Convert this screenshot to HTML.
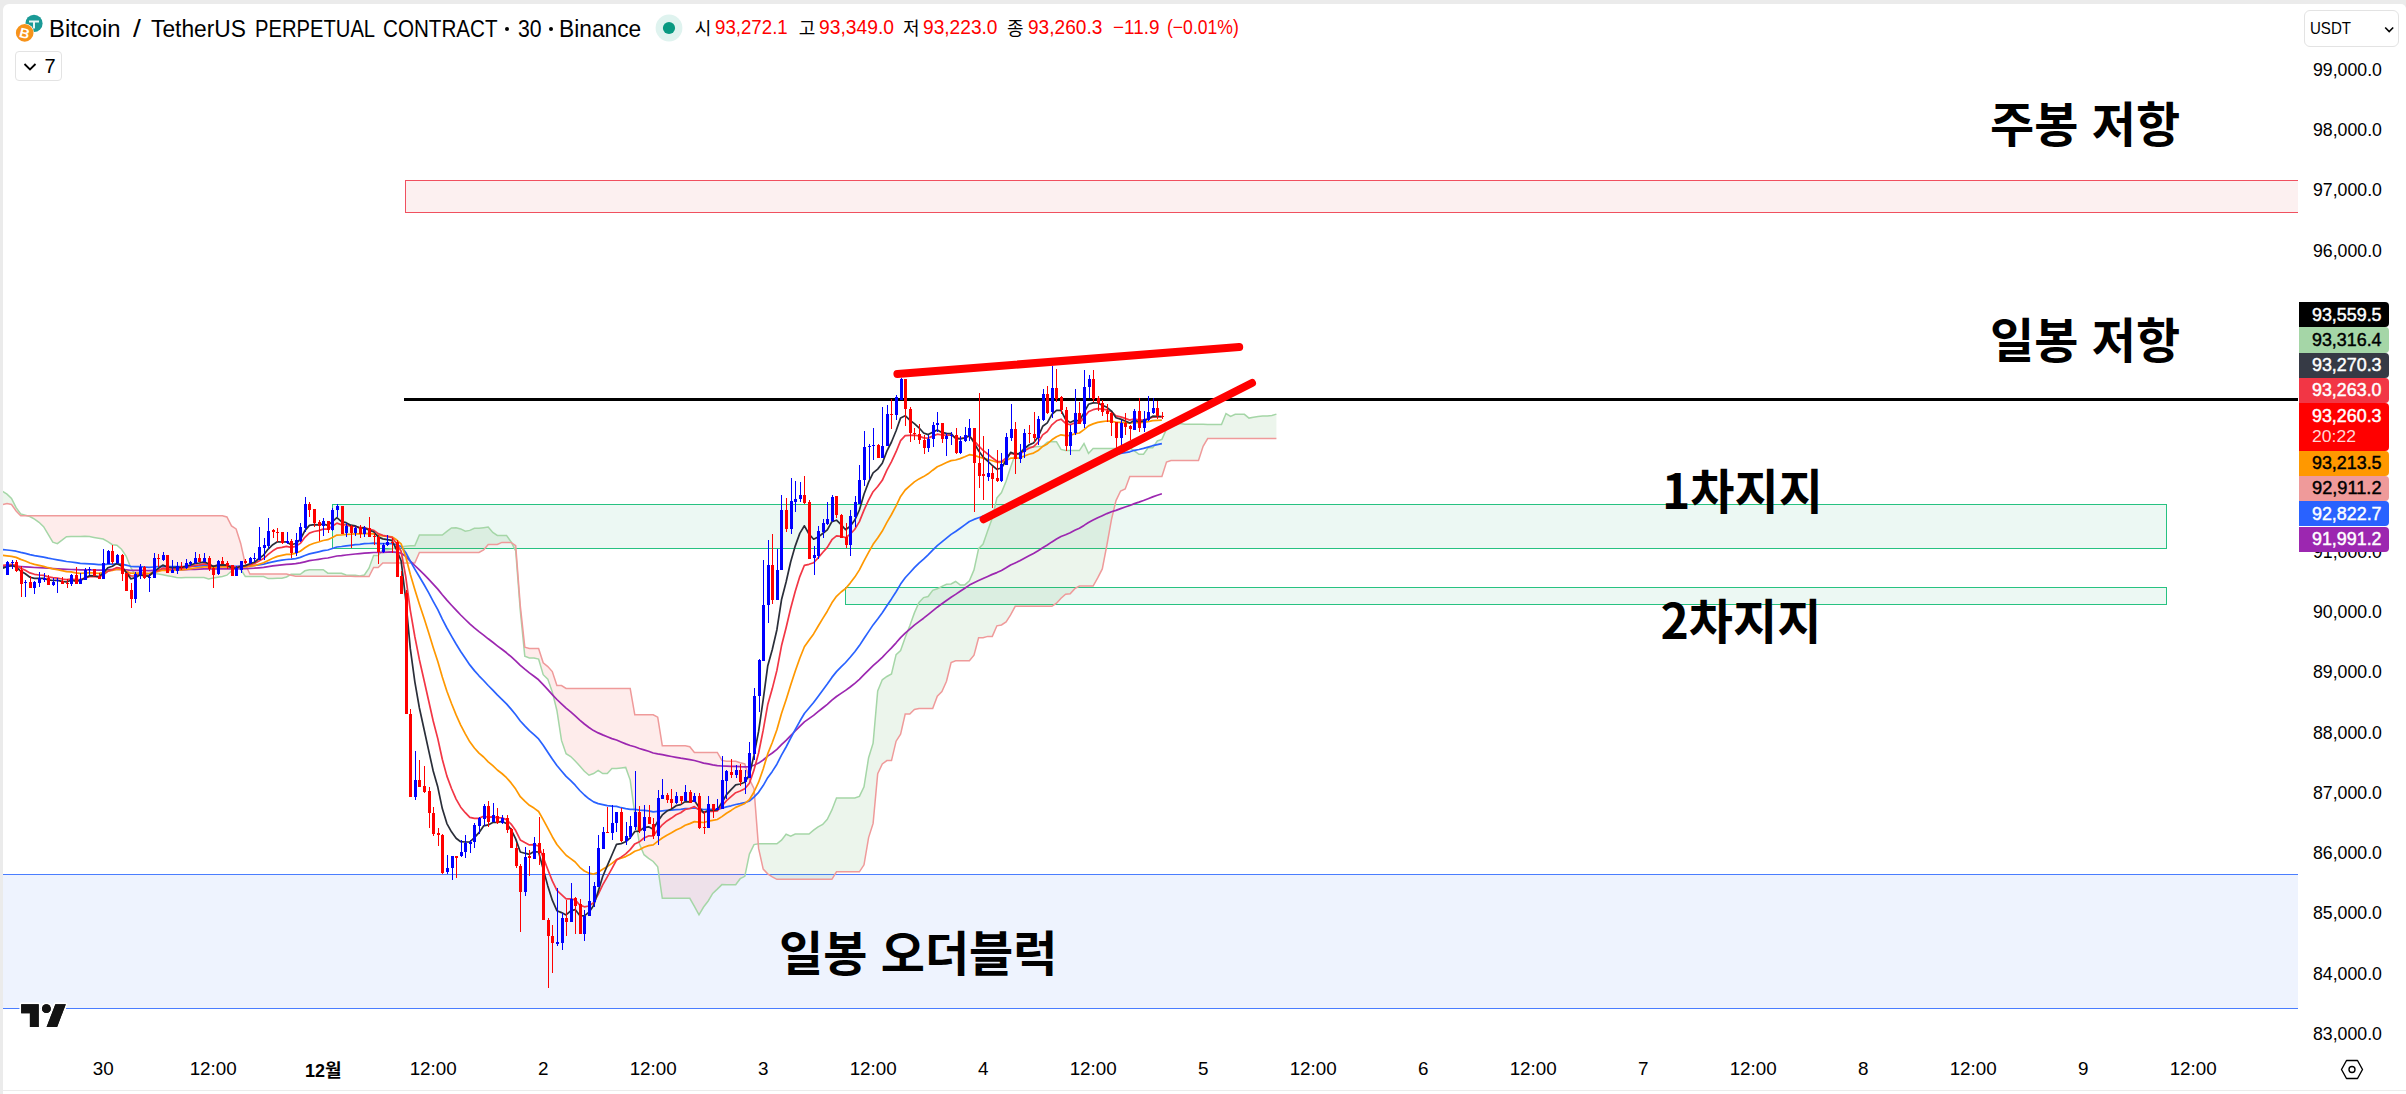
<!DOCTYPE html>
<html lang="ko"><head><meta charset="utf-8"><title>BTCUSDT.P</title>
<style>
html,body{margin:0;padding:0;}
body{width:2406px;height:1094px;position:relative;overflow:hidden;background:#ebebeb;font-family:"Liberation Sans","Noto Sans CJK KR",sans-serif;color:#131722;}
#panel{position:absolute;left:3px;top:4px;width:2403px;height:1086px;background:#fff;border-radius:6px 5px 0 0;}
#below{position:absolute;left:3px;top:1091px;width:2403px;height:3px;background:#fff;}
.t{position:absolute;white-space:nowrap;line-height:1;}
.w{position:absolute;white-space:nowrap;line-height:1;transform-origin:0 0;font-family:"Liberation Sans","Noto Sans CJK KR",sans-serif;}
.k{position:absolute;white-space:nowrap;line-height:1;font-size:18px;color:#000;font-family:"Noto Sans CJK KR",sans-serif;}
.tc{transform:translateX(-50%);color:#000;}
.tb{transform:translateX(-50%);color:#000;font-weight:bold;font-size:18px;}
.title{left:50px;top:17px;font-size:24px;color:#000;}
.ohlc{left:696px;top:18px;font-size:20px;color:#000;}
.ohlc .v{color:#ff0000;}
.ohlc .sp{display:inline-block;width:9px;}
.legbtn{position:absolute;left:15px;top:51px;width:47px;height:30px;border:1px solid #e3e3e3;border-radius:4px;box-sizing:border-box;background:#fff;}
.legbtn .n{position:absolute;left:28.5px;top:3.2px;font-size:20px;color:#000;}
.usdt{position:absolute;left:2304px;top:10px;width:95px;height:37px;border:1px solid #e3e3e3;border-radius:6px;box-sizing:border-box;background:#fff;}
.usdt .n{position:absolute;left:5px;top:10px;font-size:18px;color:#000;}
.ax{position:absolute;left:2312px;font-size:17px;color:#000;line-height:1;}
.tx{position:absolute;top:1061px;font-size:17px;color:#000;transform:translateX(-50%);line-height:1;}
.tx.b{font-weight:bold;}
.lbl{position:absolute;left:2299px;width:90px;height:25.3px;border-radius:0 4px 4px 0;box-sizing:border-box;padding-left:13px;font-size:17px;line-height:25px;font-weight:bold;}
.big{position:absolute;font-weight:bold;color:#000;font-size:48px;line-height:1;white-space:nowrap;font-family:"Noto Sans CJK KR","Liberation Sans",sans-serif;}
</style></head><body>
<div id="panel"></div><div id="below"></div>
<svg width="2406" height="1094" viewBox="0 0 2406 1094" style="position:absolute;left:0;top:0">
<defs><clipPath id="pane"><rect x="3" y="4" width="2295" height="1046"/></clipPath></defs>
<g clip-path="url(#pane)">
<rect x="0" y="874.5" width="2298" height="133.5" fill="#eef3fe"/>
<line x1="0" y1="874.5" x2="2298" y2="874.5" stroke="#4a7dff" stroke-width="1"/>
<line x1="0" y1="1008.5" x2="2298" y2="1008.5" stroke="#4a7dff" stroke-width="1"/>
<rect x="405.5" y="180.5" width="1900" height="32" fill="#fcf0f0" stroke="#f0505f" stroke-width="1"/>
<rect x="332.5" y="504.5" width="1834" height="44" fill="#ecf8f3" stroke="#27c281" stroke-width="1"/>
<rect x="845.5" y="587.5" width="1321" height="17" fill="#ecf8f3" stroke="#27c281" stroke-width="1"/>
<path d="M2.37,491.30 L6.96,494.10 L6.96,503.57 L2.37,504.60ZM6.96,494.10 L11.54,498.49 L11.54,504.45 L6.96,503.57ZM11.54,498.49 L16.12,507.73 L16.12,510.93 L11.54,504.45ZM16.12,507.73 L20.71,513.89 L20.71,515.70 L16.12,510.93ZM20.71,513.89 L25.29,515.21 L25.29,515.70 L20.71,515.70ZM25.29,515.21 L27.01,515.70 L25.29,515.70ZM289.97,574.95 L291.10,574.27 L291.10,575.26ZM291.10,574.27 L295.69,574.27 L295.69,576.20 L291.10,575.26ZM295.69,574.27 L300.27,574.27 L300.27,576.20 L295.69,576.20ZM300.27,574.27 L304.85,570.77 L304.85,576.20 L300.27,576.20ZM304.85,570.77 L309.44,569.73 L309.44,576.20 L304.85,576.20ZM309.44,569.73 L314.02,569.73 L314.02,576.20 L309.44,576.20ZM314.02,569.73 L318.60,569.73 L318.60,576.20 L314.02,576.20ZM318.60,569.73 L323.18,569.73 L323.18,576.20 L318.60,576.20ZM323.18,569.73 L327.77,573.25 L327.77,576.20 L323.18,576.20ZM327.77,573.25 L332.35,573.25 L332.35,576.20 L327.77,576.20ZM332.35,573.25 L336.93,573.25 L336.93,576.20 L332.35,576.20ZM336.93,573.25 L341.52,573.25 L341.52,576.20 L336.93,576.20ZM341.52,573.25 L346.10,575.00 L346.10,576.20 L341.52,576.20ZM346.10,575.00 L350.68,575.27 L350.68,576.20 L346.10,576.20ZM350.68,575.27 L355.26,575.27 L355.26,576.55 L350.68,576.20ZM355.26,575.27 L359.85,576.05 L359.85,576.55 L355.26,576.55ZM359.85,576.05 L364.43,575.00 L364.43,576.55 L359.85,576.55ZM364.43,575.00 L369.01,568.17 L369.01,576.55 L364.43,576.55ZM369.01,568.17 L373.60,555.38 L373.60,567.45 L369.01,576.55ZM373.60,555.38 L378.18,555.38 L378.18,567.45 L373.60,567.45ZM378.18,555.38 L382.76,549.85 L382.76,562.95 L378.18,567.45ZM382.76,549.85 L387.35,549.85 L387.35,562.95 L382.76,562.95ZM387.35,549.85 L391.93,549.07 L391.93,562.95 L387.35,562.95ZM391.93,549.07 L396.51,546.95 L396.51,562.95 L391.93,562.95ZM396.51,546.95 L401.10,546.85 L401.10,562.95 L396.51,562.95ZM401.10,546.85 L405.68,546.35 L405.68,562.95 L401.10,562.95ZM405.68,546.35 L410.26,545.77 L410.26,562.95 L405.68,562.95ZM410.26,545.77 L414.84,545.77 L414.84,562.95 L410.26,562.95ZM414.84,545.77 L419.43,534.95 L419.43,552.50 L414.84,562.95ZM419.43,534.95 L424.01,534.95 L424.01,552.50 L419.43,552.50ZM424.01,534.95 L428.59,534.95 L428.59,552.50 L424.01,552.50ZM428.59,534.95 L433.18,534.95 L433.18,552.50 L428.59,552.50ZM433.18,534.95 L437.76,534.95 L437.76,552.50 L433.18,552.50ZM437.76,534.95 L442.34,534.95 L442.34,552.50 L437.76,552.50ZM442.34,534.95 L446.93,531.35 L446.93,552.50 L442.34,552.50ZM446.93,531.35 L451.51,528.05 L451.51,552.50 L446.93,552.50ZM451.51,528.05 L456.09,527.67 L456.09,552.50 L451.51,552.50ZM456.09,527.67 L460.67,528.92 L460.67,552.50 L456.09,552.50ZM460.67,528.92 L465.26,531.17 L465.26,552.50 L460.67,552.50ZM465.26,531.17 L469.84,530.40 L469.84,552.50 L465.26,552.50ZM469.84,530.40 L474.42,528.28 L474.42,552.50 L469.84,552.50ZM474.42,528.28 L479.01,528.17 L479.01,552.50 L474.42,552.50ZM479.01,528.17 L483.59,527.67 L483.59,549.95 L479.01,552.50ZM483.59,527.67 L488.17,527.10 L488.17,544.45 L483.59,549.95ZM488.17,527.10 L492.75,532.52 L492.75,544.45 L488.17,544.45ZM492.75,532.52 L497.34,535.35 L497.34,544.45 L492.75,544.45ZM497.34,535.35 L501.92,535.35 L501.92,542.40 L497.34,544.45ZM501.92,535.35 L506.50,535.35 L506.50,542.40 L501.92,542.40ZM506.50,535.35 L511.09,541.85 L511.09,542.40 L506.50,542.40ZM511.09,541.85 L511.54,542.72 L511.09,542.40ZM758.22,843.84 L758.57,843.77 L758.57,848.40ZM758.57,843.77 L763.15,843.77 L763.15,869.10 L758.57,848.40ZM763.15,843.77 L767.74,843.77 L767.74,873.75 L763.15,869.10ZM767.74,843.77 L772.32,843.77 L772.32,876.75 L767.74,873.75ZM772.32,843.77 L776.90,843.77 L776.90,879.30 L772.32,876.75ZM776.90,843.77 L781.48,840.12 L781.48,879.30 L776.90,879.30ZM781.48,840.12 L786.07,834.20 L786.07,879.30 L781.48,879.30ZM786.07,834.20 L790.65,836.20 L790.65,879.30 L786.07,879.30ZM790.65,836.20 L795.23,833.98 L795.23,879.30 L790.65,879.30ZM795.23,833.98 L799.82,833.98 L799.82,879.30 L795.23,879.30ZM799.82,833.98 L804.40,833.98 L804.40,879.30 L799.82,879.30ZM804.40,833.98 L808.98,833.98 L808.98,879.30 L804.40,879.30ZM808.98,833.98 L813.57,830.10 L813.57,879.30 L808.98,879.30ZM813.57,830.10 L818.15,826.75 L818.15,879.30 L813.57,879.30ZM818.15,826.75 L822.73,824.35 L822.73,879.30 L818.15,879.30ZM822.73,824.35 L827.31,819.28 L827.31,879.30 L822.73,879.30ZM827.31,819.28 L831.90,809.85 L831.90,879.30 L827.31,879.30ZM831.90,809.85 L836.48,798.02 L836.48,871.80 L831.90,879.30ZM836.48,798.02 L841.06,798.02 L841.06,871.80 L836.48,871.80ZM841.06,798.02 L845.65,798.02 L845.65,871.80 L841.06,871.80ZM845.65,798.02 L850.23,798.02 L850.23,871.80 L845.65,871.80ZM850.23,798.02 L854.81,798.02 L854.81,871.80 L850.23,871.80ZM854.81,798.02 L859.40,796.38 L859.40,871.80 L854.81,871.80ZM859.40,796.38 L863.98,786.83 L863.98,864.75 L859.40,871.80ZM863.98,786.83 L868.56,757.72 L868.56,837.65 L863.98,864.75ZM868.56,757.72 L873.14,743.15 L873.14,823.35 L868.56,837.65ZM873.14,743.15 L877.73,691.05 L877.73,773.75 L873.14,823.35ZM877.73,691.05 L882.31,679.82 L882.31,763.90 L877.73,773.75ZM882.31,679.82 L886.89,676.52 L886.89,760.60 L882.31,763.90ZM886.89,676.52 L891.48,673.92 L891.48,760.60 L886.89,760.60ZM891.48,673.92 L896.06,654.58 L896.06,741.25 L891.48,760.60ZM896.06,654.58 L900.64,650.55 L900.64,734.20 L896.06,741.25ZM900.64,650.55 L905.23,637.62 L905.23,713.95 L900.64,734.20ZM905.23,637.62 L909.81,625.70 L909.81,713.95 L905.23,713.95ZM909.81,625.70 L914.39,612.90 L914.39,709.50 L909.81,713.95ZM914.39,612.90 L918.97,602.38 L918.97,708.40 L914.39,709.50ZM918.97,602.38 L923.56,597.60 L923.56,708.40 L918.97,708.40ZM923.56,597.60 L928.14,596.52 L928.14,708.40 L923.56,708.40ZM928.14,596.52 L932.72,590.30 L932.72,708.40 L928.14,708.40ZM932.72,590.30 L937.31,588.78 L937.31,696.25 L932.72,708.40ZM937.31,588.78 L941.89,586.28 L941.89,691.45 L937.31,696.25ZM941.89,586.28 L946.47,584.28 L946.47,681.30 L941.89,691.45ZM946.47,584.28 L951.06,584.00 L951.06,662.45 L946.47,681.30ZM951.06,584.00 L955.64,581.50 L955.64,660.70 L951.06,662.45ZM955.64,581.50 L960.22,584.88 L960.22,660.70 L955.64,660.70ZM960.22,584.88 L964.80,584.88 L964.80,660.70 L960.22,660.70ZM964.80,584.88 L969.39,580.85 L969.39,660.70 L964.80,660.70ZM969.39,580.85 L973.97,569.85 L973.97,655.20 L969.39,660.70ZM973.97,569.85 L978.55,548.67 L978.55,637.80 L973.97,655.20ZM978.55,548.67 L983.14,544.15 L983.14,637.80 L978.55,637.80ZM983.14,544.15 L987.72,530.78 L987.72,636.35 L983.14,637.80ZM987.72,530.78 L992.30,517.98 L992.30,636.35 L987.72,636.35ZM992.30,517.98 L996.89,497.95 L996.89,625.75 L992.30,636.35ZM996.89,497.95 L1001.47,492.47 L1001.47,625.05 L996.89,625.75ZM1001.47,492.47 L1006.05,481.27 L1006.05,622.05 L1001.47,625.05ZM1006.05,481.27 L1010.63,467.23 L1010.63,614.85 L1006.05,622.05ZM1010.63,467.23 L1015.22,454.27 L1015.22,606.30 L1010.63,614.85ZM1015.22,454.27 L1019.80,452.45 L1019.80,606.30 L1015.22,606.30ZM1019.80,452.45 L1024.38,447.70 L1024.38,606.30 L1019.80,606.30ZM1024.38,447.70 L1028.97,447.15 L1028.97,606.30 L1024.38,606.30ZM1028.97,447.15 L1033.55,447.15 L1033.55,606.30 L1028.97,606.30ZM1033.55,447.15 L1038.13,446.35 L1038.13,606.30 L1033.55,606.30ZM1038.13,446.35 L1042.71,446.35 L1042.71,606.30 L1038.13,606.30ZM1042.71,446.35 L1047.30,442.33 L1047.30,606.30 L1042.71,606.30ZM1047.30,442.33 L1051.88,441.58 L1051.88,606.30 L1047.30,606.30ZM1051.88,441.58 L1056.46,441.83 L1056.46,603.25 L1051.88,606.30ZM1056.46,441.83 L1061.05,449.35 L1061.05,598.25 L1056.46,603.25ZM1061.05,449.35 L1065.63,450.62 L1065.63,594.25 L1061.05,598.25ZM1065.63,450.62 L1070.21,450.62 L1070.21,593.70 L1065.63,594.25ZM1070.21,450.62 L1074.80,450.62 L1074.80,588.70 L1070.21,593.70ZM1074.80,450.62 L1079.38,450.62 L1079.38,585.95 L1074.80,588.70ZM1079.38,450.62 L1083.96,443.50 L1083.96,585.95 L1079.38,585.95ZM1083.96,443.50 L1088.55,453.35 L1088.55,585.95 L1083.96,585.95ZM1088.55,453.35 L1093.13,448.52 L1093.13,585.95 L1088.55,585.95ZM1093.13,448.52 L1097.71,448.52 L1097.71,577.90 L1093.13,585.95ZM1097.71,448.52 L1102.29,448.52 L1102.29,568.85 L1097.71,577.90ZM1102.29,448.52 L1106.88,448.52 L1106.88,545.00 L1102.29,568.85ZM1106.88,448.52 L1111.46,448.52 L1111.46,519.40 L1106.88,545.00ZM1111.46,448.52 L1116.04,448.52 L1116.04,500.55 L1111.46,519.40ZM1116.04,448.52 L1120.63,448.52 L1120.63,491.00 L1116.04,500.55ZM1120.63,448.52 L1125.21,448.52 L1125.21,488.85 L1120.63,491.00ZM1125.21,448.52 L1129.79,447.77 L1129.79,476.40 L1125.21,488.85ZM1129.79,447.77 L1134.38,450.80 L1134.38,476.40 L1129.79,476.40ZM1134.38,450.80 L1138.96,454.27 L1138.96,476.40 L1134.38,476.40ZM1138.96,454.27 L1143.54,454.27 L1143.54,476.40 L1138.96,476.40ZM1143.54,454.27 L1148.12,447.77 L1148.12,476.40 L1143.54,476.40ZM1148.12,447.77 L1152.71,447.77 L1152.71,476.40 L1148.12,476.40ZM1152.71,447.77 L1157.29,441.00 L1157.29,476.40 L1152.71,476.40ZM1157.29,441.00 L1161.87,439.35 L1161.87,476.40 L1157.29,476.40ZM1161.87,439.35 L1166.46,429.10 L1166.46,462.05 L1161.87,476.40ZM1166.46,429.10 L1171.04,426.32 L1171.04,460.55 L1166.46,462.05ZM1171.04,426.32 L1175.62,425.07 L1175.62,460.55 L1171.04,460.55ZM1175.62,425.07 L1180.21,423.48 L1180.21,460.55 L1175.62,460.55ZM1180.21,423.48 L1184.79,424.27 L1184.79,460.55 L1180.21,460.55ZM1184.79,424.27 L1189.37,424.27 L1189.37,460.55 L1184.79,460.55ZM1189.37,424.27 L1193.95,424.27 L1193.95,460.55 L1189.37,460.55ZM1193.95,424.27 L1198.54,424.27 L1198.54,460.55 L1193.95,460.55ZM1198.54,424.27 L1203.12,424.27 L1203.12,446.30 L1198.54,460.55ZM1203.12,424.27 L1207.70,424.43 L1207.70,438.50 L1203.12,446.30ZM1207.70,424.43 L1212.29,424.65 L1212.29,438.50 L1207.70,438.50ZM1212.29,424.65 L1216.87,424.65 L1216.87,438.50 L1212.29,438.50ZM1216.87,424.65 L1221.45,424.65 L1221.45,438.50 L1216.87,438.50ZM1221.45,424.65 L1226.04,413.50 L1226.04,438.50 L1221.45,438.50ZM1226.04,413.50 L1230.62,416.45 L1230.62,438.50 L1226.04,438.50ZM1230.62,416.45 L1235.20,414.30 L1235.20,438.50 L1230.62,438.50ZM1235.20,414.30 L1239.78,414.30 L1239.78,438.50 L1235.20,438.50ZM1239.78,414.30 L1244.37,414.30 L1244.37,438.50 L1239.78,438.50ZM1244.37,414.30 L1248.95,418.05 L1248.95,438.50 L1244.37,438.50ZM1248.95,418.05 L1253.53,417.32 L1253.53,438.50 L1248.95,438.50ZM1253.53,417.32 L1258.12,416.52 L1258.12,438.50 L1253.53,438.50ZM1258.12,416.52 L1262.70,415.98 L1262.70,438.50 L1258.12,438.50ZM1262.70,415.98 L1267.28,415.98 L1267.28,438.50 L1262.70,438.50ZM1267.28,415.98 L1271.87,415.35 L1271.87,438.50 L1267.28,438.50ZM1271.87,415.35 L1276.45,414.08 L1276.45,438.50 L1271.87,438.50Z" fill="rgba(67,160,71,0.1)"/>
<path d="M27.01,515.70 L29.87,516.52 L29.87,515.70ZM29.87,516.52 L34.45,519.13 L34.45,515.70 L29.87,515.70ZM34.45,519.13 L39.04,522.28 L39.04,515.70 L34.45,515.70ZM39.04,522.28 L43.62,526.74 L43.62,515.70 L39.04,515.70ZM43.62,526.74 L48.20,534.40 L48.20,515.70 L43.62,515.70ZM48.20,534.40 L52.79,542.13 L52.79,515.70 L48.20,515.70ZM52.79,542.13 L57.37,543.62 L57.37,515.70 L52.79,515.70ZM57.37,543.62 L61.95,540.20 L61.95,515.70 L57.37,515.70ZM61.95,540.20 L66.54,536.69 L66.54,515.70 L61.95,515.70ZM66.54,536.69 L71.12,536.59 L71.12,515.70 L66.54,515.70ZM71.12,536.59 L75.70,536.48 L75.70,515.70 L71.12,515.70ZM75.70,536.48 L80.28,536.37 L80.28,515.70 L75.70,515.70ZM80.28,536.37 L84.87,536.26 L84.87,515.70 L80.28,515.70ZM84.87,536.26 L89.45,536.58 L89.45,515.70 L84.87,515.70ZM89.45,536.58 L94.03,537.40 L94.03,515.70 L89.45,515.70ZM94.03,537.40 L98.62,538.22 L98.62,515.70 L94.03,515.70ZM98.62,538.22 L103.20,539.03 L103.20,515.70 L98.62,515.70ZM103.20,539.03 L107.78,541.63 L107.78,515.70 L103.20,515.70ZM107.78,541.63 L112.37,544.69 L112.37,515.70 L107.78,515.70ZM112.37,544.69 L116.95,545.27 L116.95,515.70 L112.37,515.70ZM116.95,545.27 L121.53,549.34 L121.53,515.70 L116.95,515.70ZM121.53,549.34 L126.12,556.04 L126.12,515.70 L121.53,515.70ZM126.12,556.04 L130.70,567.52 L130.70,515.70 L126.12,515.70ZM130.70,567.52 L135.28,574.91 L135.28,515.70 L130.70,515.70ZM135.28,574.91 L139.86,574.59 L139.86,515.70 L135.28,515.70ZM139.86,574.59 L144.45,574.27 L144.45,515.70 L139.86,515.70ZM144.45,574.27 L149.03,573.96 L149.03,515.70 L144.45,515.70ZM149.03,573.96 L153.61,573.64 L153.61,515.70 L149.03,515.70ZM153.61,573.64 L158.20,573.98 L158.20,515.70 L153.61,515.70ZM158.20,573.98 L162.78,574.83 L162.78,515.70 L158.20,515.70ZM162.78,574.83 L167.36,575.68 L167.36,515.70 L162.78,515.70ZM167.36,575.68 L171.94,576.52 L171.94,515.70 L167.36,515.70ZM171.94,576.52 L176.53,577.63 L176.53,515.70 L171.94,515.70ZM176.53,577.63 L181.11,577.72 L181.11,515.70 L176.53,515.70ZM181.11,577.72 L185.69,577.64 L185.69,515.70 L181.11,515.70ZM185.69,577.64 L190.28,577.55 L190.28,515.70 L185.69,515.70ZM190.28,577.55 L194.86,577.46 L194.86,515.70 L190.28,515.70ZM194.86,577.46 L199.44,577.37 L199.44,515.70 L194.86,515.70ZM199.44,577.37 L204.03,577.54 L204.03,515.70 L199.44,515.70ZM204.03,577.54 L208.61,578.90 L208.61,515.70 L204.03,515.70ZM208.61,578.90 L213.19,577.96 L213.19,515.70 L208.61,515.70ZM213.19,577.96 L217.78,577.23 L217.78,515.70 L213.19,515.70ZM217.78,577.23 L222.36,576.55 L222.36,515.70 L217.78,515.70ZM222.36,576.55 L226.94,575.15 L226.94,516.98 L222.36,515.70ZM226.94,575.15 L231.52,571.03 L231.52,525.90 L226.94,516.98ZM231.52,571.03 L236.11,566.95 L236.11,528.95 L231.52,525.90ZM236.11,566.95 L240.69,569.42 L240.69,543.37 L236.11,528.95ZM240.69,569.42 L245.27,576.55 L245.27,564.24 L240.69,543.37ZM245.27,576.55 L249.86,576.55 L249.86,574.00 L245.27,564.24ZM249.86,576.55 L254.44,576.55 L254.44,574.00 L249.86,574.00ZM254.44,576.55 L259.02,576.55 L259.02,574.00 L254.44,574.00ZM259.02,576.55 L263.61,576.55 L263.61,574.00 L259.02,574.00ZM263.61,576.55 L268.19,578.58 L268.19,574.00 L263.61,574.00ZM268.19,578.58 L272.77,578.58 L272.77,574.00 L268.19,574.00ZM272.77,578.58 L277.35,578.30 L277.35,574.00 L272.77,574.00ZM277.35,578.30 L281.94,578.30 L281.94,574.00 L277.35,574.00ZM281.94,578.30 L286.52,577.02 L286.52,574.00 L281.94,574.00ZM286.52,577.02 L289.97,574.95 L286.52,574.00ZM511.54,542.72 L515.67,550.75 L515.67,545.70ZM515.67,550.75 L520.25,610.80 L520.25,605.75 L515.67,545.70ZM520.25,610.80 L524.84,656.20 L524.84,647.15 L520.25,605.75ZM524.84,656.20 L529.42,657.90 L529.42,648.40 L524.84,647.15ZM529.42,657.90 L534.00,657.90 L534.00,648.40 L529.42,648.40ZM534.00,657.90 L538.59,659.15 L538.59,648.40 L534.00,648.40ZM538.59,659.15 L543.17,674.73 L543.17,662.75 L538.59,648.40ZM543.17,674.73 L547.75,679.12 L547.75,666.60 L543.17,662.75ZM547.75,679.12 L552.33,691.88 L552.33,671.65 L547.75,666.60ZM552.33,691.88 L556.92,710.50 L556.92,685.60 L552.33,671.65ZM556.92,710.50 L561.50,740.40 L561.50,685.60 L556.92,685.60ZM561.50,740.40 L566.08,753.70 L566.08,688.55 L561.50,685.60ZM566.08,753.70 L570.67,756.52 L570.67,688.55 L566.08,688.55ZM570.67,756.52 L575.25,760.85 L575.25,688.55 L570.67,688.55ZM575.25,760.85 L579.83,766.12 L579.83,688.55 L575.25,688.55ZM579.83,766.12 L584.42,771.20 L584.42,688.55 L579.83,688.55ZM584.42,771.20 L589.00,775.15 L589.00,688.55 L584.42,688.55ZM589.00,775.15 L593.58,773.50 L593.58,688.55 L589.00,688.55ZM593.58,773.50 L598.16,770.38 L598.16,688.55 L593.58,688.55ZM598.16,770.38 L602.75,773.62 L602.75,688.55 L598.16,688.55ZM602.75,773.62 L607.33,773.45 L607.33,688.55 L602.75,688.55ZM607.33,773.45 L611.91,768.58 L611.91,688.55 L607.33,688.55ZM611.91,768.58 L616.50,768.58 L616.50,688.55 L611.91,688.55ZM616.50,768.58 L621.08,768.05 L621.08,688.55 L616.50,688.55ZM621.08,768.05 L625.66,767.43 L625.66,688.55 L621.08,688.55ZM625.66,767.43 L630.25,780.15 L630.25,688.55 L625.66,688.55ZM630.25,780.15 L634.83,813.95 L634.83,714.75 L630.25,688.55ZM634.83,813.95 L639.41,843.85 L639.41,714.75 L634.83,714.75ZM639.41,843.85 L643.99,854.70 L643.99,714.75 L639.41,714.75ZM643.99,854.70 L648.58,858.27 L648.58,714.75 L643.99,714.75ZM648.58,858.27 L653.16,861.52 L653.16,714.75 L648.58,714.75ZM653.16,861.52 L657.74,866.80 L657.74,717.25 L653.16,714.75ZM657.74,866.80 L662.33,898.33 L662.33,745.70 L657.74,717.25ZM662.33,898.33 L666.91,898.33 L666.91,745.70 L662.33,745.70ZM666.91,898.33 L671.49,898.33 L671.49,745.70 L666.91,745.70ZM671.49,898.33 L676.08,898.33 L676.08,745.70 L671.49,745.70ZM676.08,898.33 L680.66,898.33 L680.66,745.70 L676.08,745.70ZM680.66,898.33 L685.24,898.33 L685.24,745.70 L680.66,745.70ZM685.24,898.33 L689.82,898.33 L689.82,746.70 L685.24,745.70ZM689.82,898.33 L694.41,906.35 L694.41,752.35 L689.82,746.70ZM694.41,906.35 L698.99,914.83 L698.99,752.35 L694.41,752.35ZM698.99,914.83 L703.57,906.97 L703.57,752.35 L698.99,752.35ZM703.57,906.97 L708.16,901.05 L708.16,752.35 L703.57,752.35ZM708.16,901.05 L712.74,893.35 L712.74,752.35 L708.16,752.35ZM712.74,893.35 L717.32,889.12 L717.32,752.35 L712.74,752.35ZM717.32,889.12 L721.91,884.62 L721.91,760.35 L717.32,752.35ZM721.91,884.62 L726.49,884.77 L726.49,761.25 L721.91,760.35ZM726.49,884.77 L731.07,884.77 L731.07,761.25 L726.49,761.25ZM731.07,884.77 L735.65,884.77 L735.65,761.25 L731.07,761.25ZM735.65,884.77 L740.24,878.70 L740.24,762.75 L735.65,761.25ZM740.24,878.70 L744.82,876.30 L744.82,763.85 L740.24,762.75ZM744.82,876.30 L749.40,854.08 L749.40,779.25 L744.82,763.85ZM749.40,854.08 L753.99,844.65 L753.99,788.60 L749.40,779.25ZM753.99,844.65 L758.22,843.84 L753.99,788.60Z" fill="rgba(244,67,54,0.1)"/>
<polyline points="2.4,491.3 7.0,494.1 11.5,498.5 16.1,507.7 20.7,513.9 25.3,515.2 29.9,516.5 34.5,519.1 39.0,522.3 43.6,526.7 48.2,534.4 52.8,542.1 57.4,543.6 62.0,540.2 66.5,536.7 71.1,536.6 75.7,536.5 80.3,536.4 84.9,536.3 89.5,536.6 94.0,537.4 98.6,538.2 103.2,539.0 107.8,541.6 112.4,544.7 116.9,545.3 121.5,549.3 126.1,556.0 130.7,567.5 135.3,574.9 139.9,574.6 144.4,574.3 149.0,574.0 153.6,573.6 158.2,574.0 162.8,574.8 167.4,575.7 171.9,576.5 176.5,577.6 181.1,577.7 185.7,577.6 190.3,577.5 194.9,577.5 199.4,577.4 204.0,577.5 208.6,578.9 213.2,578.0 217.8,577.2 222.4,576.5 226.9,575.2 231.5,571.0 236.1,567.0 240.7,569.4 245.3,576.5 249.9,576.5 254.4,576.5 259.0,576.5 263.6,576.5 268.2,578.6 272.8,578.6 277.4,578.3 281.9,578.3 286.5,577.0 291.1,574.3 295.7,574.3 300.3,574.3 304.9,570.8 309.4,569.7 314.0,569.7 318.6,569.7 323.2,569.7 327.8,573.2 332.4,573.2 336.9,573.2 341.5,573.2 346.1,575.0 350.7,575.3 355.3,575.3 359.8,576.0 364.4,575.0 369.0,568.2 373.6,555.4 378.2,555.4 382.8,549.8 387.3,549.8 391.9,549.1 396.5,546.9 401.1,546.8 405.7,546.3 410.3,545.8 414.8,545.8 419.4,535.0 424.0,535.0 428.6,535.0 433.2,535.0 437.8,535.0 442.3,535.0 446.9,531.3 451.5,528.0 456.1,527.7 460.7,528.9 465.3,531.2 469.8,530.4 474.4,528.3 479.0,528.2 483.6,527.7 488.2,527.1 492.8,532.5 497.3,535.4 501.9,535.4 506.5,535.4 511.1,541.9 515.7,550.8 520.3,610.8 524.8,656.2 529.4,657.9 534.0,657.9 538.6,659.1 543.2,674.7 547.8,679.1 552.3,691.9 556.9,710.5 561.5,740.4 566.1,753.7 570.7,756.5 575.2,760.9 579.8,766.1 584.4,771.2 589.0,775.2 593.6,773.5 598.2,770.4 602.7,773.6 607.3,773.5 611.9,768.6 616.5,768.6 621.1,768.0 625.7,767.4 630.2,780.1 634.8,814.0 639.4,843.8 644.0,854.7 648.6,858.3 653.2,861.5 657.7,866.8 662.3,898.3 666.9,898.3 671.5,898.3 676.1,898.3 680.7,898.3 685.2,898.3 689.8,898.3 694.4,906.3 699.0,914.8 703.6,907.0 708.2,901.0 712.7,893.4 717.3,889.1 721.9,884.6 726.5,884.8 731.1,884.8 735.7,884.8 740.2,878.7 744.8,876.3 749.4,854.1 754.0,844.6 758.6,843.8 763.2,843.8 767.7,843.8 772.3,843.8 776.9,843.8 781.5,840.1 786.1,834.2 790.7,836.2 795.2,834.0 799.8,834.0 804.4,834.0 809.0,834.0 813.6,830.1 818.1,826.8 822.7,824.4 827.3,819.3 831.9,809.9 836.5,798.0 841.1,798.0 845.6,798.0 850.2,798.0 854.8,798.0 859.4,796.4 864.0,786.8 868.6,757.7 873.1,743.1 877.7,691.0 882.3,679.8 886.9,676.5 891.5,673.9 896.1,654.6 900.6,650.5 905.2,637.6 909.8,625.7 914.4,612.9 919.0,602.4 923.6,597.6 928.1,596.5 932.7,590.3 937.3,588.8 941.9,586.3 946.5,584.3 951.1,584.0 955.6,581.5 960.2,584.9 964.8,584.9 969.4,580.8 974.0,569.9 978.6,548.7 983.1,544.1 987.7,530.8 992.3,518.0 996.9,497.9 1001.5,492.5 1006.1,481.3 1010.6,467.2 1015.2,454.3 1019.8,452.5 1024.4,447.7 1029.0,447.1 1033.5,447.1 1038.1,446.4 1042.7,446.4 1047.3,442.3 1051.9,441.6 1056.5,441.8 1061.0,449.4 1065.6,450.6 1070.2,450.6 1074.8,450.6 1079.4,450.6 1084.0,443.5 1088.5,453.4 1093.1,448.5 1097.7,448.5 1102.3,448.5 1106.9,448.5 1111.5,448.5 1116.0,448.5 1120.6,448.5 1125.2,448.5 1129.8,447.8 1134.4,450.8 1139.0,454.3 1143.5,454.3 1148.1,447.8 1152.7,447.8 1157.3,441.0 1161.9,439.4 1166.5,429.1 1171.0,426.3 1175.6,425.1 1180.2,423.5 1184.8,424.3 1189.4,424.3 1194.0,424.3 1198.5,424.3 1203.1,424.3 1207.7,424.4 1212.3,424.6 1216.9,424.6 1221.5,424.6 1226.0,413.5 1230.6,416.4 1235.2,414.3 1239.8,414.3 1244.4,414.3 1249.0,418.1 1253.5,417.3 1258.1,416.5 1262.7,416.0 1267.3,416.0 1271.9,415.4 1276.4,414.1" fill="none" stroke="#a5d6a7" stroke-width="1.5"/>
<polyline points="2.4,504.6 7.0,503.6 11.5,504.5 16.1,510.9 20.7,515.7 25.3,515.7 29.9,515.7 34.5,515.7 39.0,515.7 43.6,515.7 48.2,515.7 52.8,515.7 57.4,515.7 62.0,515.7 66.5,515.7 71.1,515.7 75.7,515.7 80.3,515.7 84.9,515.7 89.5,515.7 94.0,515.7 98.6,515.7 103.2,515.7 107.8,515.7 112.4,515.7 116.9,515.7 121.5,515.7 126.1,515.7 130.7,515.7 135.3,515.7 139.9,515.7 144.4,515.7 149.0,515.7 153.6,515.7 158.2,515.7 162.8,515.7 167.4,515.7 171.9,515.7 176.5,515.7 181.1,515.7 185.7,515.7 190.3,515.7 194.9,515.7 199.4,515.7 204.0,515.7 208.6,515.7 213.2,515.7 217.8,515.7 222.4,515.7 226.9,517.0 231.5,525.9 236.1,528.9 240.7,543.4 245.3,564.2 249.9,574.0 254.4,574.0 259.0,574.0 263.6,574.0 268.2,574.0 272.8,574.0 277.4,574.0 281.9,574.0 286.5,574.0 291.1,575.3 295.7,576.2 300.3,576.2 304.9,576.2 309.4,576.2 314.0,576.2 318.6,576.2 323.2,576.2 327.8,576.2 332.4,576.2 336.9,576.2 341.5,576.2 346.1,576.2 350.7,576.2 355.3,576.5 359.8,576.5 364.4,576.5 369.0,576.5 373.6,567.5 378.2,567.5 382.8,563.0 387.3,563.0 391.9,563.0 396.5,563.0 401.1,563.0 405.7,563.0 410.3,563.0 414.8,563.0 419.4,552.5 424.0,552.5 428.6,552.5 433.2,552.5 437.8,552.5 442.3,552.5 446.9,552.5 451.5,552.5 456.1,552.5 460.7,552.5 465.3,552.5 469.8,552.5 474.4,552.5 479.0,552.5 483.6,550.0 488.2,544.5 492.8,544.5 497.3,544.5 501.9,542.4 506.5,542.4 511.1,542.4 515.7,545.7 520.3,605.8 524.8,647.1 529.4,648.4 534.0,648.4 538.6,648.4 543.2,662.8 547.8,666.6 552.3,671.6 556.9,685.6 561.5,685.6 566.1,688.5 570.7,688.5 575.2,688.5 579.8,688.5 584.4,688.5 589.0,688.5 593.6,688.5 598.2,688.5 602.7,688.5 607.3,688.5 611.9,688.5 616.5,688.5 621.1,688.5 625.7,688.5 630.2,688.5 634.8,714.8 639.4,714.8 644.0,714.8 648.6,714.8 653.2,714.8 657.7,717.2 662.3,745.7 666.9,745.7 671.5,745.7 676.1,745.7 680.7,745.7 685.2,745.7 689.8,746.7 694.4,752.4 699.0,752.4 703.6,752.4 708.2,752.4 712.7,752.4 717.3,752.4 721.9,760.4 726.5,761.2 731.1,761.2 735.7,761.2 740.2,762.8 744.8,763.9 749.4,779.2 754.0,788.6 758.6,848.4 763.2,869.1 767.7,873.8 772.3,876.8 776.9,879.3 781.5,879.3 786.1,879.3 790.7,879.3 795.2,879.3 799.8,879.3 804.4,879.3 809.0,879.3 813.6,879.3 818.1,879.3 822.7,879.3 827.3,879.3 831.9,879.3 836.5,871.8 841.1,871.8 845.6,871.8 850.2,871.8 854.8,871.8 859.4,871.8 864.0,864.8 868.6,837.6 873.1,823.4 877.7,773.8 882.3,763.9 886.9,760.6 891.5,760.6 896.1,741.2 900.6,734.2 905.2,714.0 909.8,714.0 914.4,709.5 919.0,708.4 923.6,708.4 928.1,708.4 932.7,708.4 937.3,696.2 941.9,691.5 946.5,681.3 951.1,662.5 955.6,660.7 960.2,660.7 964.8,660.7 969.4,660.7 974.0,655.2 978.6,637.8 983.1,637.8 987.7,636.4 992.3,636.4 996.9,625.8 1001.5,625.0 1006.1,622.0 1010.6,614.9 1015.2,606.3 1019.8,606.3 1024.4,606.3 1029.0,606.3 1033.5,606.3 1038.1,606.3 1042.7,606.3 1047.3,606.3 1051.9,606.3 1056.5,603.2 1061.0,598.2 1065.6,594.2 1070.2,593.7 1074.8,588.7 1079.4,586.0 1084.0,586.0 1088.5,586.0 1093.1,586.0 1097.7,577.9 1102.3,568.9 1106.9,545.0 1111.5,519.4 1116.0,500.6 1120.6,491.0 1125.2,488.9 1129.8,476.4 1134.4,476.4 1139.0,476.4 1143.5,476.4 1148.1,476.4 1152.7,476.4 1157.3,476.4 1161.9,476.4 1166.5,462.1 1171.0,460.6 1175.6,460.6 1180.2,460.6 1184.8,460.6 1189.4,460.6 1194.0,460.6 1198.5,460.6 1203.1,446.3 1207.7,438.5 1212.3,438.5 1216.9,438.5 1221.5,438.5 1226.0,438.5 1230.6,438.5 1235.2,438.5 1239.8,438.5 1244.4,438.5 1249.0,438.5 1253.5,438.5 1258.1,438.5 1262.7,438.5 1267.3,438.5 1271.9,438.5 1276.4,438.5" fill="none" stroke="#ef9a9a" stroke-width="1.5"/>
<rect x="404" y="398" width="1894" height="3" fill="#000"/>
<polyline points="2.4,566.2 7.0,566.1 11.5,566.0 16.1,566.1 20.7,566.5 25.3,566.8 29.9,567.2 34.5,567.5 39.0,567.7 43.6,567.9 48.2,568.2 52.8,568.5 57.4,568.8 62.0,569.1 66.5,569.3 71.1,569.5 75.7,569.7 80.3,569.9 84.9,569.9 89.5,569.9 94.0,570.0 98.6,570.2 103.2,570.1 107.8,569.7 112.4,569.5 116.9,569.2 121.5,569.3 126.1,569.8 130.7,570.3 135.3,570.4 139.9,570.3 144.4,570.5 149.0,570.6 153.6,570.4 158.2,570.2 162.8,569.9 167.4,569.9 171.9,569.9 176.5,569.8 181.1,569.8 185.7,569.7 190.3,569.5 194.9,569.3 199.4,569.1 204.0,568.9 208.6,568.9 213.2,569.0 217.8,568.9 222.4,568.8 226.9,568.7 231.5,568.9 236.1,568.9 240.7,568.7 245.3,568.6 249.9,568.4 254.4,568.2 259.0,567.8 263.6,567.3 268.2,566.6 272.8,565.9 277.4,565.3 281.9,564.8 286.5,564.4 291.1,564.1 295.7,563.7 300.3,562.9 304.9,561.8 309.4,560.7 314.0,560.0 318.6,559.3 323.2,558.5 327.8,558.0 332.4,557.0 336.9,556.0 341.5,555.6 346.1,555.0 350.7,554.5 355.3,554.0 359.8,553.6 364.4,553.1 369.0,552.8 373.6,552.5 378.2,552.5 382.8,552.3 387.3,552.1 391.9,551.9 396.5,552.4 401.1,553.2 405.7,556.4 410.3,561.2 414.8,565.5 419.4,569.9 424.0,574.3 428.6,579.1 433.2,584.1 437.8,589.1 442.3,594.7 446.9,600.1 451.5,605.2 456.1,610.2 460.7,615.0 465.3,619.5 469.8,623.9 474.4,627.9 479.0,631.6 483.6,635.1 488.2,638.8 492.8,642.3 497.3,645.8 501.9,649.3 506.5,652.8 511.1,656.7 515.7,660.9 520.3,665.4 524.8,669.2 529.4,672.9 534.0,676.3 538.6,679.8 543.2,684.6 547.8,689.6 552.3,694.6 556.9,699.5 561.5,703.8 566.1,708.1 570.7,711.9 575.2,715.8 579.8,720.1 584.4,724.0 589.0,727.5 593.6,730.6 598.2,732.9 602.7,734.9 607.3,736.8 611.9,738.6 616.5,740.0 621.1,742.0 625.7,743.9 630.2,745.5 634.8,746.8 639.4,748.5 644.0,749.9 648.6,751.3 653.2,753.0 657.7,753.9 662.3,754.7 666.9,755.6 671.5,756.5 676.1,757.3 680.7,758.2 685.2,758.9 689.8,759.7 694.4,760.5 699.0,761.8 703.6,763.1 708.2,763.9 712.7,764.9 717.3,765.7 721.9,766.0 726.5,766.1 731.1,766.3 735.7,766.4 740.2,766.7 744.8,766.9 749.4,766.6 754.0,765.2 758.6,763.1 763.2,760.0 767.7,756.1 772.3,753.0 776.9,749.4 781.5,744.7 786.1,740.4 790.7,735.6 795.2,731.0 799.8,726.3 804.4,721.9 809.0,718.6 813.6,715.4 818.1,711.7 822.7,708.0 827.3,704.3 831.9,700.2 836.5,696.5 841.1,693.4 845.6,690.4 850.2,687.0 854.8,683.3 859.4,679.3 864.0,674.7 868.6,670.1 873.1,665.7 877.7,661.6 882.3,657.3 886.9,652.5 891.5,647.8 896.1,642.8 900.6,637.6 905.2,633.1 909.8,629.1 914.4,625.2 919.0,621.6 923.6,618.2 928.1,614.6 932.7,610.9 937.3,607.2 941.9,603.8 946.5,600.5 951.1,597.2 955.6,594.4 960.2,591.3 964.8,588.2 969.4,585.1 974.0,582.7 978.6,580.5 983.1,578.5 987.7,576.4 992.3,574.4 996.9,572.6 1001.5,570.4 1006.1,567.8 1010.6,565.0 1015.2,562.9 1019.8,560.8 1024.4,558.2 1029.0,555.8 1033.5,553.4 1038.1,550.8 1042.7,547.7 1047.3,545.0 1051.9,541.9 1056.5,539.1 1061.0,536.5 1065.6,534.7 1070.2,532.7 1074.8,530.3 1079.4,528.2 1084.0,525.4 1088.5,522.5 1093.1,520.1 1097.7,517.8 1102.3,515.7 1106.9,513.6 1111.5,511.8 1116.0,510.4 1120.6,508.6 1125.2,507.0 1129.8,505.5 1134.4,503.6 1139.0,502.1 1143.5,500.5 1148.1,498.7 1152.7,496.9 1157.3,495.3 1161.9,493.8" fill="none" stroke="#9c27b0" stroke-width="1.7" stroke-linejoin="round"/>
<polyline points="2.4,549.6 7.0,550.0 11.5,550.5 16.1,551.2 20.7,552.4 25.3,553.4 29.9,554.6 34.5,555.6 39.0,556.4 43.6,557.2 48.2,558.2 52.8,559.0 57.4,559.8 62.0,560.7 66.5,561.5 71.1,562.0 75.7,562.7 80.3,563.3 84.9,563.6 89.5,563.8 94.0,564.2 98.6,564.7 103.2,564.7 107.8,564.2 112.4,564.1 116.9,563.8 121.5,564.1 126.1,565.1 130.7,566.3 135.3,566.6 139.9,566.6 144.4,567.0 149.0,567.4 153.6,567.0 158.2,566.7 162.8,566.3 167.4,566.6 171.9,566.7 176.5,566.7 181.1,566.7 185.7,566.6 190.3,566.4 194.9,566.1 199.4,565.9 204.0,565.7 208.6,565.8 213.2,566.1 217.8,565.9 222.4,565.9 226.9,565.9 231.5,566.2 236.1,566.3 240.7,566.1 245.3,566.0 249.9,565.8 254.4,565.5 259.0,564.8 263.6,564.1 268.2,562.9 272.8,561.8 277.4,560.8 281.9,560.1 286.5,559.5 291.1,559.2 295.7,558.6 300.3,557.4 304.9,555.5 309.4,553.9 314.0,552.8 318.6,551.8 323.2,550.7 327.8,550.0 332.4,548.5 336.9,547.0 341.5,546.5 346.1,545.8 350.7,545.3 355.3,544.7 359.8,544.3 364.4,543.7 369.0,543.5 373.6,543.2 378.2,543.6 382.8,543.6 387.3,543.6 391.9,543.5 396.5,544.7 401.1,546.5 405.7,552.5 410.3,561.2 414.8,569.1 419.4,576.8 424.0,584.5 428.6,592.7 433.2,601.3 437.8,609.7 442.3,619.1 446.9,628.0 451.5,636.1 456.1,644.0 460.7,651.5 465.3,658.3 469.8,664.9 474.4,670.6 479.0,675.8 483.6,680.5 488.2,685.5 492.8,690.1 497.3,694.9 501.9,699.3 506.5,703.9 511.1,709.1 515.7,714.7 520.3,721.0 524.8,725.9 529.4,730.6 534.0,734.6 538.6,738.9 543.2,745.3 547.8,752.2 552.3,759.0 556.9,765.5 561.5,771.0 566.1,776.4 570.7,780.7 575.2,785.2 579.8,790.5 584.4,795.0 589.0,798.8 593.6,801.9 598.2,803.6 602.7,804.6 607.3,805.6 611.9,806.2 616.5,806.4 621.1,807.7 625.7,808.7 630.2,809.3 634.8,809.4 639.4,810.2 644.0,810.4 648.6,810.9 653.2,811.8 657.7,811.3 662.3,810.8 666.9,810.4 671.5,810.1 676.1,809.6 680.7,809.3 685.2,808.7 689.8,808.5 694.4,808.0 699.0,808.8 703.6,809.5 708.2,809.3 712.7,809.3 717.3,809.3 721.9,808.2 726.5,806.9 731.1,805.8 735.7,804.5 740.2,803.7 744.8,802.7 749.4,801.0 754.0,797.2 758.6,792.3 763.2,785.6 767.7,777.7 772.3,771.4 776.9,764.2 781.5,755.1 786.1,747.0 790.7,738.2 795.2,729.7 799.8,721.3 804.4,713.5 809.0,708.0 813.6,702.5 818.1,696.4 822.7,690.2 827.3,684.1 831.9,677.4 836.5,671.6 841.1,666.9 845.6,662.5 850.2,657.3 854.8,651.7 859.4,645.6 864.0,638.5 868.6,631.6 873.1,624.9 877.7,619.0 882.3,612.8 886.9,605.7 891.5,598.9 896.1,591.7 900.6,584.1 905.2,577.8 909.8,572.7 914.4,567.7 919.0,563.2 923.6,559.1 928.1,554.8 932.7,550.2 937.3,545.6 941.9,541.9 946.5,538.1 951.1,534.4 955.6,531.5 960.2,528.2 964.8,524.9 969.4,521.5 974.0,519.4 978.6,517.8 983.1,516.3 987.7,514.8 992.3,513.5 996.9,512.3 1001.5,510.6 1006.1,508.0 1010.6,505.1 1015.2,503.5 1019.8,501.7 1024.4,499.2 1029.0,496.9 1033.5,494.8 1038.1,492.1 1042.7,488.6 1047.3,485.9 1051.9,482.4 1056.5,479.4 1061.0,476.9 1065.6,475.8 1070.2,474.3 1074.8,472.1 1079.4,470.4 1084.0,467.4 1088.5,464.3 1093.1,461.9 1097.7,459.8 1102.3,458.1 1106.9,456.5 1111.5,455.3 1116.0,454.7 1120.6,453.5 1125.2,452.6 1129.8,451.8 1134.4,450.3 1139.0,449.5 1143.5,448.4 1148.1,447.1 1152.7,445.7 1157.3,444.7 1161.9,443.7" fill="none" stroke="#2962ff" stroke-width="1.7" stroke-linejoin="round"/>
<polyline points="2.4,555.4 7.0,555.9 11.5,556.3 16.1,557.4 20.7,559.4 25.3,561.0 29.9,563.0 34.5,564.4 39.0,565.4 43.6,566.4 48.2,567.7 52.8,568.8 57.4,569.7 62.0,570.7 66.5,571.7 71.1,571.9 75.7,572.8 80.3,573.3 84.9,573.0 89.5,572.7 94.0,573.0 98.6,573.4 103.2,572.7 107.8,571.1 112.4,570.4 116.9,569.2 121.5,569.6 126.1,571.1 130.7,573.2 135.3,573.3 139.9,572.8 144.4,573.2 149.0,573.5 153.6,572.4 158.2,571.4 162.8,570.1 167.4,570.3 171.9,570.3 176.5,570.0 181.1,569.8 185.7,569.3 190.3,568.8 194.9,568.0 199.4,567.5 204.0,566.8 208.6,567.0 213.2,567.6 217.8,567.1 222.4,566.9 226.9,566.8 231.5,567.5 236.1,567.6 240.7,567.1 245.3,566.8 249.9,566.2 254.4,565.6 259.0,564.2 263.6,562.8 268.2,560.4 272.8,558.3 277.4,556.4 281.9,555.4 286.5,554.4 291.1,554.3 295.7,553.2 300.3,551.3 304.9,547.8 309.4,545.0 314.0,543.3 318.6,542.0 323.2,540.5 327.8,539.7 332.4,537.5 336.9,535.1 341.5,535.0 346.1,534.3 350.7,534.2 355.3,533.8 359.8,533.8 364.4,533.4 369.0,533.6 373.6,533.8 378.2,535.2 382.8,535.9 387.3,536.3 391.9,536.8 396.5,539.8 401.1,543.8 405.7,556.5 410.3,574.3 414.8,589.6 419.4,604.2 424.0,618.1 428.6,632.6 433.2,647.5 437.8,661.4 442.3,677.1 446.9,691.3 451.5,703.5 456.1,714.9 460.7,725.1 465.3,733.8 469.8,741.8 474.4,748.0 479.0,753.1 483.6,757.0 488.2,761.8 492.8,765.7 497.3,770.0 501.9,773.5 506.5,777.7 511.1,782.9 515.7,789.1 520.3,796.7 524.8,801.2 529.4,805.3 534.0,808.1 538.6,811.5 543.2,819.6 547.8,828.2 552.3,836.7 556.9,844.5 561.5,850.0 566.1,855.3 570.7,858.6 575.2,862.0 579.8,867.3 584.4,871.0 589.0,873.2 593.6,874.1 598.2,872.2 602.7,869.3 607.3,866.6 611.9,863.4 616.5,859.6 621.1,858.2 625.7,856.6 630.2,854.3 634.8,851.2 639.4,849.7 644.0,847.3 648.6,845.6 653.2,844.9 657.7,841.4 662.3,838.0 666.9,835.2 671.5,832.8 676.1,830.0 680.7,827.9 685.2,825.3 689.8,823.6 694.4,821.6 699.0,822.1 703.6,822.5 708.2,821.2 712.7,820.4 717.3,819.5 721.9,816.6 726.5,813.2 731.1,810.4 735.7,807.4 740.2,805.5 744.8,803.4 749.4,799.7 754.0,792.0 758.6,782.2 763.2,769.0 767.7,753.9 772.3,742.5 776.9,729.8 781.5,713.5 786.1,699.8 790.7,685.1 795.2,671.3 799.8,658.2 804.4,646.7 809.0,640.2 813.6,633.9 818.1,626.3 822.7,618.6 827.3,611.2 831.9,602.8 836.5,596.3 841.1,592.0 845.6,588.5 850.2,583.1 854.8,577.1 859.4,569.9 864.0,560.8 868.6,552.3 873.1,544.3 877.7,537.9 882.3,531.1 886.9,522.4 891.5,514.5 896.1,505.8 900.6,496.4 905.2,490.0 909.8,485.8 914.4,481.9 919.0,478.9 923.6,476.6 928.1,473.8 932.7,470.2 937.3,466.8 941.9,464.7 946.5,462.6 951.1,460.6 955.6,460.0 960.2,458.6 964.8,456.8 969.4,454.7 974.0,455.3 978.6,456.9 983.1,458.2 987.7,459.4 992.3,460.8 996.9,462.3 1001.5,462.4 1006.1,460.5 1010.6,458.2 1015.2,458.2 1019.8,457.8 1024.4,456.0 1029.0,454.3 1033.5,453.1 1038.1,450.6 1042.7,446.4 1047.3,443.9 1051.9,439.8 1056.5,436.7 1061.0,434.8 1065.6,435.6 1070.2,435.4 1074.8,433.7 1079.4,433.0 1084.0,429.6 1088.5,425.9 1093.1,423.9 1097.7,422.4 1102.3,421.6 1106.9,421.0 1111.5,421.1 1116.0,422.3 1120.6,422.4 1125.2,422.7 1129.8,423.2 1134.4,422.3 1139.0,422.7 1143.5,422.4 1148.1,421.7 1152.7,420.7 1157.3,420.3 1161.9,420.1" fill="none" stroke="#ff9800" stroke-width="1.7" stroke-linejoin="round"/>
<polyline points="2.4,565.3 7.0,564.8 11.5,564.4 16.1,565.4 20.7,568.2 25.3,570.3 29.9,572.9 34.5,574.3 39.0,575.0 43.6,575.4 48.2,576.9 52.8,577.7 57.4,578.1 62.0,579.0 66.5,579.7 71.1,579.0 75.7,579.7 80.3,579.6 84.9,578.1 89.5,576.7 94.0,576.7 98.6,577.0 103.2,574.9 107.8,571.3 112.4,569.8 116.9,567.5 121.5,568.4 126.1,571.9 130.7,576.0 135.3,575.8 139.9,574.4 144.4,575.0 149.0,575.3 153.6,572.7 158.2,570.6 162.8,568.2 167.4,568.9 171.9,569.0 176.5,568.6 181.1,568.4 185.7,567.6 190.3,566.7 194.9,565.4 199.4,564.9 204.0,563.9 208.6,564.7 213.2,566.2 217.8,565.4 222.4,565.2 226.9,565.4 231.5,567.0 236.1,567.2 240.7,566.3 245.3,565.9 249.9,564.7 254.4,563.6 259.0,561.1 263.6,558.6 268.2,554.4 272.8,550.8 277.4,548.1 281.9,547.3 286.5,546.3 291.1,547.4 295.7,546.3 300.3,543.4 304.9,537.3 309.4,533.1 314.0,531.5 318.6,530.6 323.2,529.1 327.8,529.2 332.4,526.3 336.9,523.1 341.5,524.7 346.1,524.9 350.7,526.1 355.3,526.4 359.8,527.6 364.4,527.6 369.0,529.0 373.6,530.2 378.2,533.6 382.8,535.3 387.3,536.3 391.9,537.3 396.5,543.4 401.1,551.2 405.7,576.3 410.3,610.3 414.8,636.5 419.4,659.7 424.0,680.0 428.6,700.5 433.2,721.0 437.8,738.6 442.3,759.3 446.9,776.1 451.5,788.5 456.1,799.1 460.7,807.2 465.3,812.7 469.8,817.3 474.4,818.4 479.0,818.3 483.6,816.3 488.2,817.2 492.8,816.8 497.3,817.7 501.9,817.8 506.5,819.6 511.1,824.1 515.7,830.6 520.3,839.9 524.8,842.6 529.4,844.9 534.0,844.6 538.6,846.0 543.2,857.4 547.8,869.5 552.3,880.9 556.9,890.3 561.5,894.6 566.1,898.8 570.7,898.8 575.2,899.9 579.8,905.1 584.4,906.8 589.0,906.0 593.6,902.8 598.2,894.4 602.7,884.9 607.3,876.9 611.9,868.6 616.5,860.0 621.1,857.1 625.7,853.9 630.2,849.6 634.8,843.9 639.4,841.8 644.0,838.0 648.6,835.9 653.2,836.0 657.7,830.1 662.3,824.8 666.9,820.9 671.5,818.1 676.1,814.7 680.7,812.7 685.2,809.5 689.8,808.5 694.4,806.6 699.0,809.9 703.6,812.7 708.2,811.4 712.7,811.3 717.3,810.8 721.9,806.1 726.5,800.7 731.1,796.7 735.7,792.7 740.2,791.0 744.8,788.8 749.4,783.3 754.0,769.9 758.6,753.0 763.2,730.2 767.7,704.8 772.3,688.6 776.9,670.4 781.5,645.8 786.1,627.7 790.7,608.2 795.2,591.5 799.8,576.6 804.4,565.3 809.0,564.3 813.6,562.8 818.1,557.9 822.7,552.5 827.3,547.4 831.9,539.7 836.5,535.9 841.1,536.3 845.6,537.6 850.2,534.3 854.8,529.2 859.4,521.6 864.0,510.1 868.6,500.2 873.1,491.7 877.7,486.5 882.3,480.3 886.9,470.1 891.5,461.6 896.1,451.7 900.6,440.6 905.2,435.7 909.8,435.4 914.4,435.2 919.0,436.0 923.6,437.9 928.1,438.1 932.7,436.1 937.3,434.2 941.9,435.0 946.5,435.2 951.1,435.1 955.6,437.9 960.2,438.3 964.8,437.8 969.4,436.3 974.0,440.5 978.6,445.9 983.1,450.4 987.7,454.0 992.3,457.8 996.9,461.3 1001.5,461.7 1006.1,457.9 1010.6,453.4 1015.2,454.3 1019.8,454.0 1024.4,450.8 1029.0,448.2 1033.5,446.6 1038.1,442.3 1042.7,434.9 1047.3,431.5 1051.9,424.8 1056.5,420.8 1061.0,419.2 1065.6,423.4 1070.2,424.8 1074.8,422.9 1079.4,423.2 1084.0,417.6 1088.5,411.7 1093.1,409.7 1097.7,408.7 1102.3,409.2 1106.9,409.9 1111.5,411.8 1116.0,415.8 1120.6,416.9 1125.2,418.4 1129.8,420.1 1134.4,418.7 1139.0,420.1 1143.5,419.9 1148.1,418.7 1152.7,417.1 1157.3,417.0 1161.9,417.0" fill="none" stroke="#f23645" stroke-width="1.7" stroke-linejoin="round"/>
<polyline points="2.4,568.2 7.0,566.7 11.5,565.5 16.1,566.9 20.7,571.1 25.3,573.7 29.9,577.2 34.5,578.4 39.0,578.4 43.6,578.3 48.2,579.9 52.8,580.5 57.4,580.4 62.0,581.3 66.5,582.0 71.1,580.2 75.7,581.1 80.3,580.6 84.9,577.9 89.5,575.7 94.0,575.9 98.6,576.6 103.2,573.3 107.8,567.8 112.4,566.3 116.9,563.4 121.5,566.0 126.1,572.2 130.7,578.8 135.3,577.7 139.9,575.0 144.4,575.8 149.0,576.1 153.6,571.6 158.2,568.5 162.8,565.1 167.4,567.0 171.9,567.7 176.5,567.4 181.1,567.4 185.7,566.3 190.3,565.2 194.9,563.5 199.4,563.0 204.0,561.9 208.6,563.7 213.2,566.5 217.8,565.1 222.4,564.9 226.9,565.2 231.5,567.8 236.1,568.0 240.7,566.3 245.3,565.6 249.9,563.7 254.4,562.3 259.0,558.5 263.6,555.1 268.2,549.1 272.8,544.7 277.4,541.8 281.9,542.0 286.5,541.8 291.1,544.7 295.7,543.5 300.3,539.5 304.9,530.6 309.4,525.4 314.0,524.7 318.6,524.9 323.2,524.0 327.8,525.4 332.4,521.6 336.9,517.7 341.5,521.6 346.1,522.7 350.7,525.2 355.3,525.9 359.8,528.0 364.4,527.9 369.0,530.1 373.6,531.7 378.2,536.9 382.8,538.9 387.3,539.6 391.9,540.4 396.5,549.5 401.1,560.7 405.7,599.2 410.3,648.7 414.8,681.6 419.4,708.0 424.0,729.0 428.6,750.1 433.2,771.0 437.8,787.1 442.3,808.6 446.9,823.6 451.5,831.8 456.1,838.2 460.7,841.7 465.3,842.0 469.8,842.0 474.4,837.7 479.0,832.7 483.6,825.9 488.2,824.9 492.8,822.4 497.3,822.5 501.9,821.4 506.5,823.5 511.1,829.7 515.7,838.9 520.3,852.0 524.8,853.2 529.4,854.3 534.0,851.6 538.6,852.0 543.2,869.1 547.8,885.9 552.3,900.2 556.9,910.7 561.5,912.6 566.1,914.9 570.7,910.9 575.2,909.6 579.8,915.6 584.4,915.8 589.0,912.2 593.6,905.5 598.2,891.2 602.7,876.5 607.3,865.6 611.9,855.0 616.5,844.3 621.1,843.6 625.7,841.8 630.2,837.8 634.8,831.4 639.4,831.2 644.0,827.6 648.6,826.8 653.2,829.2 657.7,821.4 662.3,814.9 666.9,811.1 671.5,809.0 676.1,805.7 680.7,804.6 685.2,801.6 689.8,801.9 694.4,800.5 699.0,807.3 703.6,812.6 708.2,810.5 712.7,810.5 717.3,809.9 721.9,802.5 726.5,794.7 731.1,789.7 735.7,784.8 740.2,784.0 744.8,782.3 749.4,775.0 754.0,755.2 758.6,731.4 763.2,699.7 767.7,666.1 772.3,649.5 776.9,629.7 781.5,599.8 786.1,582.0 790.7,561.7 795.2,546.1 799.8,533.4 804.4,525.8 809.0,534.0 813.6,539.2 818.1,537.1 822.7,533.5 827.3,529.9 831.9,521.7 836.5,520.2 841.1,524.6 845.6,529.7 850.2,526.3 854.8,520.1 859.4,510.0 864.0,494.2 868.6,482.1 873.1,472.9 877.7,469.1 882.3,463.3 886.9,451.1 891.5,442.0 896.1,430.8 900.6,417.9 905.2,415.7 909.8,420.1 914.4,423.6 919.0,427.8 923.6,433.0 928.1,434.6 932.7,432.2 937.3,430.0 941.9,432.4 946.5,433.4 951.1,433.7 955.6,438.5 960.2,439.0 964.8,438.0 969.4,435.6 974.0,442.5 978.6,450.8 983.1,457.0 987.7,461.1 992.3,465.5 996.9,469.3 1001.5,468.0 1006.1,460.2 1010.6,452.4 1015.2,454.0 1019.8,453.6 1024.4,448.5 1029.0,444.9 1033.5,443.0 1038.1,437.0 1042.7,426.3 1047.3,422.9 1051.9,414.3 1056.5,410.4 1061.0,410.4 1065.6,419.4 1070.2,422.6 1074.8,420.2 1079.4,421.2 1084.0,412.7 1088.5,404.3 1093.1,402.9 1097.7,403.0 1102.3,405.2 1106.9,407.3 1111.5,411.1 1116.0,417.7 1120.6,419.1 1125.2,421.0 1129.8,423.1 1134.4,420.1 1139.0,422.0 1143.5,421.2 1148.1,418.9 1152.7,416.2 1157.3,416.3 1161.9,416.5" fill="none" stroke="#2a2e39" stroke-width="1.7" stroke-linejoin="round"/>

<path d="M6,562h3v13h-3zM7,561h1v1h-1zM11,562h3v1h-3zM12,560h1v2h-1zM12,563h1v6h-1zM24,582h3v1h-3zM25,580h1v2h-1zM25,583h1v14h-1zM33,582h3v6h-3zM34,581h1v1h-1zM34,588h1v6h-1zM38,578h3v5h-3zM39,572h1v6h-1zM39,583h1v4h-1zM43,578h3v2h-3zM44,573h1v5h-1zM44,580h1v2h-1zM52,582h3v3h-3zM53,578h1v4h-1zM53,585h1v1h-1zM56,580h3v1h-3zM57,578h1v2h-1zM57,581h1v12h-1zM70,575h3v9h-3zM71,574h1v1h-1zM71,584h1v2h-1zM79,579h3v5h-3zM80,573h1v6h-1zM84,570h3v10h-3zM85,568h1v2h-1zM88,569h3v1h-3zM89,567h1v2h-1zM89,570h1v5h-1zM102,563h3v16h-3zM103,549h1v14h-1zM107,551h3v13h-3zM108,550h1v1h-1zM116,555h3v8h-3zM117,554h1v1h-1zM117,563h1v1h-1zM134,574h3v25h-3zM135,572h1v2h-1zM135,599h1v4h-1zM139,567h3v8h-3zM140,564h1v3h-1zM140,575h1v4h-1zM148,577h3v1h-3zM149,574h1v3h-1zM149,578h1v14h-1zM153,558h3v20h-3zM154,553h1v5h-1zM162,555h3v5h-3zM163,552h1v3h-1zM163,560h1v1h-1zM171,570h3v3h-3zM172,560h1v10h-1zM176,566h3v5h-3zM177,562h1v4h-1zM177,571h1v3h-1zM185,563h3v5h-3zM186,559h1v4h-1zM186,568h1v1h-1zM189,562h3v2h-3zM190,561h1v1h-1zM190,564h1v2h-1zM194,558h3v5h-3zM195,552h1v6h-1zM195,563h1v1h-1zM203,558h3v4h-3zM204,553h1v5h-1zM217,561h3v13h-3zM218,560h1v1h-1zM218,574h1v1h-1zM235,568h3v8h-3zM236,566h1v2h-1zM240,561h3v9h-3zM241,570h1v3h-1zM249,558h3v5h-3zM250,557h1v1h-1zM250,563h1v1h-1zM253,558h3v1h-3zM254,553h1v5h-1zM254,559h1v3h-1zM258,547h3v13h-3zM259,527h1v20h-1zM263,545h3v3h-3zM264,538h1v7h-1zM264,548h1v12h-1zM267,531h3v15h-3zM268,518h1v13h-1zM268,546h1v3h-1zM286,541h3v2h-3zM287,532h1v9h-1zM287,543h1v1h-1zM295,540h3v13h-3zM296,533h1v7h-1zM296,553h1v3h-1zM299,527h3v14h-3zM300,523h1v4h-1zM300,541h1v1h-1zM304,504h3v24h-3zM305,497h1v7h-1zM305,528h1v4h-1zM322,521h3v5h-3zM323,518h1v3h-1zM323,526h1v10h-1zM331,510h3v20h-3zM332,508h1v2h-1zM332,530h1v1h-1zM336,506h3v4h-3zM337,504h1v2h-1zM337,510h1v7h-1zM345,526h3v7h-3zM346,523h1v3h-1zM346,533h1v4h-1zM354,528h3v5h-3zM355,526h1v2h-1zM355,533h1v3h-1zM363,528h3v6h-3zM364,526h1v2h-1zM364,534h1v3h-1zM382,545h3v7h-3zM383,543h1v2h-1zM383,552h1v1h-1zM386,542h3v3h-3zM387,535h1v7h-1zM387,545h1v1h-1zM414,780h3v17h-3zM415,751h1v29h-1zM415,797h1v3h-1zM446,868h3v4h-3zM447,855h1v13h-1zM447,872h1v2h-1zM451,856h3v12h-3zM452,868h1v12h-1zM460,852h3v4h-3zM461,840h1v12h-1zM461,856h1v1h-1zM464,843h3v9h-3zM465,835h1v8h-1zM465,852h1v6h-1zM469,842h3v2h-3zM470,840h1v2h-1zM470,844h1v9h-1zM473,825h3v17h-3zM474,823h1v2h-1zM474,842h1v6h-1zM478,818h3v8h-3zM479,817h1v1h-1zM479,826h1v8h-1zM483,806h3v13h-3zM484,804h1v2h-1zM484,819h1v7h-1zM492,815h3v7h-3zM493,803h1v12h-1zM501,818h3v5h-3zM502,815h1v3h-1zM502,823h1v1h-1zM524,857h3v35h-3zM525,847h1v10h-1zM525,892h1v4h-1zM533,843h3v16h-3zM534,837h1v6h-1zM556,942h3v2h-3zM557,888h1v54h-1zM557,944h1v2h-1zM561,918h3v25h-3zM562,913h1v5h-1zM562,943h1v7h-1zM570,899h3v23h-3zM571,883h1v16h-1zM583,916h3v18h-3zM584,910h1v6h-1zM584,934h1v7h-1zM588,901h3v15h-3zM589,866h1v35h-1zM593,886h3v16h-3zM594,882h1v4h-1zM594,902h1v5h-1zM597,848h3v39h-3zM598,835h1v13h-1zM602,832h3v17h-3zM603,827h1v5h-1zM611,823h3v10h-3zM612,805h1v18h-1zM612,833h1v7h-1zM615,812h3v11h-3zM616,823h1v9h-1zM625,836h3v5h-3zM626,822h1v14h-1zM626,841h1v4h-1zM629,826h3v11h-3zM630,816h1v10h-1zM630,837h1v2h-1zM634,812h3v15h-3zM635,771h1v41h-1zM635,827h1v3h-1zM643,817h3v14h-3zM644,805h1v12h-1zM644,831h1v10h-1zM657,798h3v38h-3zM658,790h1v8h-1zM658,836h1v9h-1zM661,795h3v4h-3zM662,779h1v16h-1zM675,796h3v7h-3zM676,792h1v4h-1zM676,803h1v1h-1zM684,792h3v9h-3zM685,785h1v7h-1zM693,796h3v6h-3zM694,793h1v3h-1zM707,804h3v24h-3zM708,796h1v8h-1zM716,808h3v2h-3zM717,799h1v9h-1zM721,780h3v29h-3zM722,756h1v24h-1zM725,771h3v10h-3zM726,770h1v1h-1zM726,781h1v18h-1zM735,770h3v5h-3zM736,765h1v5h-1zM736,775h1v3h-1zM744,777h3v5h-3zM745,770h1v7h-1zM745,782h1v12h-1zM748,753h3v25h-3zM749,742h1v11h-1zM753,696h3v58h-3zM754,688h1v8h-1zM754,754h1v6h-1zM758,660h3v36h-3zM759,659h1v1h-1zM759,696h1v16h-1zM762,605h3v56h-3zM763,560h1v45h-1zM767,565h3v40h-3zM768,540h1v25h-1zM768,605h1v18h-1zM776,570h3v30h-3zM777,549h1v21h-1zM780,510h3v60h-3zM781,495h1v15h-1zM790,501h3v28h-3zM791,478h1v23h-1zM791,529h1v5h-1zM794,499h3v3h-3zM795,481h1v18h-1zM795,502h1v10h-1zM799,495h3v4h-3zM800,482h1v13h-1zM800,499h1v3h-1zM813,555h3v3h-3zM814,546h1v9h-1zM814,558h1v17h-1zM817,531h3v25h-3zM818,526h1v5h-1zM818,556h1v3h-1zM822,523h3v9h-3zM823,519h1v4h-1zM823,532h1v6h-1zM826,519h3v5h-3zM827,502h1v17h-1zM827,524h1v1h-1zM831,497h3v24h-3zM832,495h1v2h-1zM832,521h1v1h-1zM849,516h3v29h-3zM850,510h1v6h-1zM850,545h1v11h-1zM854,502h3v15h-3zM855,496h1v6h-1zM855,517h1v10h-1zM858,480h3v24h-3zM859,465h1v15h-1zM863,447h3v33h-3zM864,431h1v16h-1zM864,480h1v6h-1zM868,446h3v1h-3zM869,444h1v2h-1zM869,447h1v32h-1zM872,445h3v1h-3zM873,428h1v17h-1zM873,446h1v14h-1zM881,446h3v12h-3zM882,407h1v39h-1zM886,414h3v32h-3zM887,405h1v9h-1zM895,397h3v18h-3zM896,395h1v2h-1zM896,415h1v5h-1zM900,379h3v21h-3zM901,378h1v1h-1zM927,439h3v9h-3zM928,435h1v4h-1zM928,448h1v4h-1zM932,425h3v14h-3zM933,422h1v3h-1zM933,439h1v8h-1zM936,423h3v2h-3zM937,412h1v11h-1zM937,425h1v7h-1zM945,436h3v3h-3zM946,433h1v3h-1zM946,439h1v17h-1zM950,435h3v1h-3zM951,432h1v3h-1zM951,436h1v9h-1zM959,441h3v12h-3zM960,436h1v5h-1zM960,453h1v1h-1zM964,435h3v6h-3zM965,427h1v8h-1zM965,441h1v1h-1zM968,428h3v8h-3zM969,419h1v9h-1zM969,436h1v5h-1zM987,473h3v4h-3zM988,449h1v24h-1zM988,477h1v4h-1zM1000,464h3v17h-3zM1001,453h1v11h-1zM1001,481h1v1h-1zM1005,437h3v28h-3zM1006,433h1v4h-1zM1010,429h3v9h-3zM1011,404h1v25h-1zM1011,438h1v3h-1zM1019,452h3v7h-3zM1020,444h1v8h-1zM1020,459h1v4h-1zM1023,433h3v19h-3zM1024,429h1v4h-1zM1024,452h1v6h-1zM1037,419h3v19h-3zM1038,416h1v3h-1zM1038,438h1v7h-1zM1042,394h3v26h-3zM1043,389h1v5h-1zM1043,420h1v1h-1zM1051,388h3v24h-3zM1052,366h1v22h-1zM1052,412h1v6h-1zM1069,432h3v14h-3zM1070,425h1v7h-1zM1070,446h1v9h-1zM1074,413h3v20h-3zM1075,389h1v24h-1zM1075,433h1v2h-1zM1083,387h3v37h-3zM1084,370h1v17h-1zM1084,424h1v4h-1zM1088,379h3v8h-3zM1089,375h1v4h-1zM1089,387h1v11h-1zM1120,423h3v15h-3zM1121,420h1v3h-1zM1121,438h1v7h-1zM1133,411h3v19h-3zM1134,409h1v2h-1zM1143,419h3v9h-3zM1144,411h1v8h-1zM1144,428h1v4h-1zM1147,412h3v8h-3zM1148,396h1v16h-1zM1148,420h1v1h-1zM1152,408h3v5h-3zM1153,398h1v10h-1zM1153,413h1v1h-1z" fill="#0000ff"/><path d="M15,562h3v9h-3zM16,560h1v2h-1zM16,571h1v1h-1zM20,570h3v14h-3zM21,566h1v4h-1zM21,584h1v13h-1zM29,582h3v6h-3zM30,576h1v6h-1zM47,578h3v7h-3zM48,575h1v3h-1zM61,581h3v3h-3zM62,577h1v4h-1zM66,583h3v1h-3zM67,579h1v4h-1zM67,584h1v4h-1zM75,575h3v9h-3zM76,567h1v8h-1zM93,569h3v7h-3zM98,576h3v3h-3zM99,573h1v3h-1zM111,551h3v11h-3zM112,545h1v6h-1zM112,562h1v2h-1zM121,555h3v19h-3zM122,554h1v1h-1zM122,574h1v7h-1zM125,573h3v18h-3zM130,590h3v9h-3zM131,583h1v7h-1zM131,599h1v9h-1zM143,567h3v11h-3zM144,566h1v1h-1zM144,578h1v1h-1zM157,558h3v1h-3zM158,554h1v4h-1zM158,559h1v8h-1zM166,555h3v18h-3zM180,566h3v1h-3zM181,562h1v4h-1zM181,567h1v3h-1zM198,558h3v4h-3zM199,554h1v4h-1zM208,558h3v11h-3zM209,556h1v2h-1zM209,569h1v2h-1zM212,568h3v7h-3zM213,567h1v1h-1zM213,575h1v13h-1zM221,561h3v3h-3zM222,557h1v4h-1zM226,563h3v3h-3zM227,561h1v2h-1zM227,566h1v3h-1zM231,565h3v11h-3zM244,561h3v2h-3zM245,559h1v2h-1zM245,563h1v1h-1zM272,530h3v2h-3zM273,529h1v1h-1zM273,532h1v6h-1zM276,532h3v1h-3zM277,528h1v4h-1zM277,533h1v9h-1zM281,532h3v11h-3zM282,543h1v1h-1zM290,541h3v12h-3zM291,539h1v2h-1zM291,553h1v5h-1zM308,504h3v6h-3zM309,502h1v2h-1zM309,510h1v7h-1zM313,509h3v14h-3zM314,523h1v4h-1zM318,522h3v4h-3zM319,520h1v2h-1zM319,526h1v15h-1zM327,521h3v9h-3zM328,530h1v3h-1zM341,506h3v28h-3zM350,526h3v7h-3zM351,525h1v1h-1zM351,533h1v15h-1zM359,527h3v7h-3zM360,525h1v2h-1zM360,534h1v4h-1zM368,528h3v9h-3zM369,517h1v11h-1zM373,536h3v1h-3zM374,533h1v3h-1zM374,537h1v8h-1zM377,537h3v15h-3zM378,535h1v2h-1zM378,552h1v12h-1zM391,542h3v1h-3zM392,538h1v4h-1zM392,543h1v10h-1zM396,542h3v35h-3zM397,540h1v2h-1zM400,576h3v18h-3zM401,571h1v5h-1zM405,593h3v121h-3zM406,590h1v3h-1zM409,714h3v83h-3zM410,709h1v5h-1zM418,780h3v7h-3zM419,760h1v20h-1zM423,786h3v6h-3zM424,766h1v20h-1zM424,792h1v1h-1zM428,791h3v22h-3zM429,787h1v4h-1zM429,813h1v15h-1zM432,813h3v21h-3zM433,807h1v6h-1zM433,834h1v2h-1zM437,833h3v2h-3zM438,828h1v5h-1zM438,835h1v11h-1zM441,835h3v38h-3zM442,834h1v1h-1zM442,873h1v1h-1zM455,856h3v2h-3zM456,858h1v20h-1zM487,806h3v16h-3zM488,801h1v5h-1zM488,822h1v5h-1zM496,816h3v7h-3zM497,808h1v8h-1zM497,823h1v1h-1zM506,818h3v12h-3zM507,815h1v3h-1zM507,830h1v3h-1zM510,829h3v19h-3zM511,828h1v1h-1zM515,848h3v18h-3zM516,843h1v5h-1zM516,866h1v2h-1zM519,866h3v26h-3zM520,864h1v2h-1zM520,892h1v40h-1zM528,856h3v2h-3zM529,850h1v6h-1zM529,858h1v18h-1zM538,843h3v10h-3zM539,817h1v26h-1zM539,853h1v12h-1zM542,853h3v67h-3zM543,849h1v4h-1zM547,920h3v16h-3zM548,918h1v2h-1zM548,936h1v52h-1zM551,936h3v7h-3zM552,925h1v11h-1zM552,943h1v30h-1zM565,918h3v4h-3zM566,900h1v18h-1zM566,922h1v14h-1zM574,898h3v8h-3zM575,897h1v1h-1zM575,906h1v28h-1zM579,904h3v30h-3zM580,899h1v5h-1zM606,832h3v1h-3zM607,807h1v25h-1zM620,812h3v29h-3zM621,808h1v4h-1zM621,841h1v1h-1zM638,812h3v19h-3zM639,806h1v6h-1zM639,831h1v2h-1zM648,817h3v7h-3zM649,805h1v12h-1zM652,824h3v12h-3zM653,818h1v6h-1zM653,836h1v3h-1zM666,795h3v5h-3zM667,793h1v2h-1zM667,800h1v3h-1zM670,799h3v4h-3zM671,789h1v10h-1zM671,803h1v5h-1zM680,796h3v5h-3zM681,801h1v3h-1zM689,792h3v11h-3zM690,790h1v2h-1zM698,796h3v32h-3zM699,793h1v3h-1zM699,828h1v1h-1zM703,827h3v1h-3zM704,811h1v16h-1zM704,828h1v6h-1zM712,804h3v6h-3zM713,810h1v8h-1zM730,772h3v3h-3zM731,759h1v13h-1zM731,775h1v3h-1zM739,770h3v12h-3zM740,764h1v6h-1zM740,782h1v4h-1zM771,565h3v35h-3zM772,534h1v31h-1zM772,600h1v4h-1zM785,510h3v19h-3zM786,498h1v12h-1zM786,529h1v3h-1zM803,495h3v8h-3zM804,476h1v19h-1zM804,503h1v1h-1zM808,502h3v57h-3zM809,500h1v2h-1zM835,496h3v19h-3zM836,515h1v3h-1zM840,515h3v23h-3zM841,514h1v1h-1zM845,537h3v8h-3zM846,523h1v14h-1zM846,545h1v3h-1zM877,445h3v13h-3zM878,444h1v1h-1zM890,414h3v1h-3zM891,399h1v15h-1zM891,415h1v14h-1zM904,379h3v30h-3zM905,409h1v17h-1zM909,409h3v24h-3zM910,407h1v2h-1zM910,433h1v9h-1zM913,433h3v1h-3zM914,428h1v5h-1zM914,434h1v6h-1zM918,434h3v6h-3zM919,424h1v10h-1zM919,440h1v4h-1zM923,440h3v8h-3zM924,435h1v5h-1zM924,448h1v6h-1zM941,423h3v16h-3zM942,439h1v4h-1zM955,435h3v18h-3zM956,428h1v7h-1zM956,453h1v1h-1zM973,428h3v35h-3zM974,463h1v49h-1zM978,463h3v13h-3zM979,393h1v70h-1zM979,476h1v12h-1zM982,474h3v2h-3zM983,436h1v38h-1zM983,476h1v24h-1zM991,473h3v6h-3zM992,466h1v7h-1zM992,479h1v29h-1zM996,478h3v3h-3zM997,450h1v28h-1zM997,481h1v1h-1zM1014,429h3v30h-3zM1015,422h1v7h-1zM1015,459h1v15h-1zM1028,433h3v1h-3zM1029,425h1v8h-1zM1029,434h1v9h-1zM1033,434h3v4h-3zM1034,412h1v22h-1zM1034,438h1v4h-1zM1046,394h3v19h-3zM1047,386h1v8h-1zM1047,413h1v1h-1zM1055,388h3v11h-3zM1056,369h1v19h-1zM1056,399h1v3h-1zM1060,397h3v13h-3zM1061,396h1v1h-1zM1061,410h1v4h-1zM1065,410h3v36h-3zM1066,407h1v3h-1zM1066,446h1v5h-1zM1078,413h3v11h-3zM1079,402h1v11h-1zM1092,379h3v20h-3zM1093,370h1v9h-1zM1093,399h1v3h-1zM1097,398h3v5h-3zM1098,396h1v2h-1zM1098,403h1v8h-1zM1101,403h3v9h-3zM1102,400h1v3h-1zM1102,412h1v4h-1zM1106,411h3v3h-3zM1107,404h1v7h-1zM1107,414h1v8h-1zM1110,413h3v10h-3zM1111,412h1v1h-1zM1111,423h1v13h-1zM1115,422h3v16h-3zM1116,438h1v10h-1zM1124,423h3v4h-3zM1125,413h1v10h-1zM1125,427h1v8h-1zM1129,426h3v3h-3zM1130,425h1v1h-1zM1130,429h1v11h-1zM1138,411h3v17h-3zM1139,398h1v13h-1zM1139,428h1v4h-1zM1156,408h3v8h-3zM1157,401h1v7h-1zM1157,416h1v3h-1zM1161,416h3v1h-3zM1162,412h1v4h-1zM1162,417h1v2h-1z" fill="#ff0000"/>
<line x1="897.4" y1="374" x2="1239.2" y2="347" stroke="#ff0000" stroke-width="8" stroke-linecap="round"/>
<line x1="983.6" y1="519.2" x2="1252" y2="383" stroke="#ff0000" stroke-width="8" stroke-linecap="round"/>
</g>
<g fill="#131313" stroke="#fff" stroke-width="3.5" stroke-linejoin="round" paint-order="stroke"><path d="M21.2,1004.2H38.7V1026.9H29.9V1013.2H21.2Z"/><circle cx="46.4" cy="1008.7" r="4.4"/><path d="M55.4,1004.2H65.8L57.1,1026.9H46.6Z"/></g>
<g fill="#131313"><path d="M21.2,1004.2H38.7V1026.9H29.9V1013.2H21.2Z"/><circle cx="46.4" cy="1008.7" r="4.4"/><path d="M55.4,1004.2H65.8L57.1,1026.9H46.6Z"/></g>
</svg>
<!-- header -->
<svg style="position:absolute;left:14px;top:14px" width="38" height="34" viewBox="0 0 38 34">
<circle cx="20" cy="9.4" r="8.6" fill="#1a9a96"/>
<path d="M15,6.5h10v2h-4v6h-2v-6h-4z" fill="#fff" opacity="0.9"/>
<circle cx="10.7" cy="18.9" r="9.4" fill="#ffffff"/>
<circle cx="10.7" cy="18.9" r="8.8" fill="#f7931a"/>
<text x="10.7" y="24.2" font-family="Liberation Sans" font-weight="bold" font-size="14" fill="#fff" text-anchor="middle" transform="rotate(14 10.7 18.9)">B</text>
</svg>
<svg style="position:absolute;left:655px;top:14px" width="28" height="28"><circle cx="14" cy="14" r="13.4" fill="#dff3ef"/><circle cx="14" cy="14" r="6.1" fill="#089981"/></svg>
<div class="legbtn"><svg style="position:absolute;left:7px;top:9.5px" width="14" height="10"><path d="M1.5,2 L7,7.5 L12.5,2" fill="none" stroke="#000" stroke-width="1.8"/></svg><span class="n">7</span></div>
<div class="usdt"><svg style="position:absolute;left:79px;top:14.5px" width="11" height="8"><path d="M1.2,1.5 L5.2,5.5 L9.2,1.5" fill="none" stroke="#000" stroke-width="1.6"/></svg></div>
<svg style="position:absolute;left:2340px;top:1058px" width="24" height="23" viewBox="0 0 24 23"><path d="M6.5,2.5 H17.5 L22.5,11.5 L17.5,20.5 H6.5 L1.5,11.5 Z" fill="none" stroke="#000" stroke-width="1.4" stroke-linejoin="round"/><circle cx="12" cy="11.5" r="3" fill="none" stroke="#000" stroke-width="1.4"/></svg>
<span class="w" style="left:49.1px;top:17.29px;font-size:24.2px;transform:scaleX(0.9867);color:#000;">Bitcoin</span>
<span class="w" style="left:133.3px;top:17.29px;font-size:24.2px;transform:scaleX(1.1657);color:#000;">/</span>
<span class="w" style="left:150.7px;top:17.29px;font-size:24.2px;transform:scaleX(0.9418);color:#000;">TetherUS</span>
<span class="w" style="left:255.3px;top:17.29px;font-size:24.2px;transform:scaleX(0.835);color:#000;">PERPETUAL</span>
<span class="w" style="left:383.0px;top:17.29px;font-size:24.2px;transform:scaleX(0.8531);color:#000;">CONTRACT</span>
<span class="w" style="left:517.7px;top:17.29px;font-size:24.2px;transform:scaleX(0.8765);color:#000;">30</span>
<span class="w" style="left:559.4px;top:17.29px;font-size:24.2px;transform:scaleX(0.9406);color:#000;">Binance</span>
<div style="position:absolute;left:505.2px;top:26.6px;width:4.2px;height:4.2px;border-radius:50%;background:#000"></div>
<div style="position:absolute;left:548.6px;top:26.6px;width:4.2px;height:4.2px;border-radius:50%;background:#000"></div>
<span class="w" style="left:714.9px;top:17.89px;font-size:19.86px;transform:scaleX(0.9405);color:#ff0000;">93,272.1</span>
<span class="w" style="left:818.7px;top:17.89px;font-size:19.86px;transform:scaleX(0.9702);color:#ff0000;">93,349.0</span>
<span class="w" style="left:923.4px;top:17.89px;font-size:19.86px;transform:scaleX(0.9638);color:#ff0000;">93,223.0</span>
<span class="w" style="left:1027.5px;top:17.89px;font-size:19.86px;transform:scaleX(0.9612);color:#ff0000;">93,260.3</span>
<span class="w" style="left:1112.5px;top:17.89px;font-size:19.86px;transform:scaleX(0.9517);color:#ff0000;">−11.9</span>
<span class="w" style="left:1167.0px;top:17.89px;font-size:19.86px;transform:scaleX(0.8851);color:#ff0000;">(−0.01%)</span>
<span class="k" style="left:694.8px;top:17.5px">시</span>
<span class="k" style="left:798.8px;top:17.5px">고</span>
<span class="k" style="left:903.0px;top:17.5px">저</span>
<span class="k" style="left:1006.9px;top:17.5px">종</span>
<span class="w" style="left:2310.0px;top:19.61px;font-size:17.29px;transform:scaleX(0.8712);color:#000;">USDT</span>
<span class="w" style="left:2312.5px;top:60.96px;font-size:18.17px;transform:scaleX(0.9756);color:#000;">99,000.0</span>
<span class="w" style="left:2312.5px;top:121.21px;font-size:18.17px;transform:scaleX(0.9756);color:#000;">98,000.0</span>
<span class="w" style="left:2312.5px;top:181.46px;font-size:18.17px;transform:scaleX(0.9756);color:#000;">97,000.0</span>
<span class="w" style="left:2312.5px;top:241.71px;font-size:18.17px;transform:scaleX(0.9756);color:#000;">96,000.0</span>
<span class="w" style="left:2312.5px;top:542.96px;font-size:18.17px;transform:scaleX(0.9756);color:#000;">91,000.0</span>
<span class="w" style="left:2312.5px;top:603.21px;font-size:18.17px;transform:scaleX(0.9756);color:#000;">90,000.0</span>
<span class="w" style="left:2312.5px;top:663.46px;font-size:18.17px;transform:scaleX(0.9756);color:#000;">89,000.0</span>
<span class="w" style="left:2312.5px;top:723.71px;font-size:18.17px;transform:scaleX(0.9756);color:#000;">88,000.0</span>
<span class="w" style="left:2312.5px;top:783.96px;font-size:18.17px;transform:scaleX(0.9756);color:#000;">87,000.0</span>
<span class="w" style="left:2312.5px;top:844.21px;font-size:18.17px;transform:scaleX(0.9756);color:#000;">86,000.0</span>
<span class="w" style="left:2312.5px;top:904.46px;font-size:18.17px;transform:scaleX(0.9756);color:#000;">85,000.0</span>
<span class="w" style="left:2312.5px;top:964.71px;font-size:18.17px;transform:scaleX(0.9756);color:#000;">84,000.0</span>
<span class="w" style="left:2312.5px;top:1024.96px;font-size:18.17px;transform:scaleX(0.9756);color:#000;">83,000.0</span>
<span class="w tc" style="left:103.2px;top:1059.86px;font-size:18.84px">30</span>
<span class="w tc" style="left:213.2px;top:1059.86px;font-size:18.84px">12:00</span>
<span class="w tb" style="left:323.2px;top:1061.6px">12월</span>
<span class="w tc" style="left:433.2px;top:1059.86px;font-size:18.84px">12:00</span>
<span class="w tc" style="left:543.2px;top:1059.86px;font-size:18.84px">2</span>
<span class="w tc" style="left:653.2px;top:1059.86px;font-size:18.84px">12:00</span>
<span class="w tc" style="left:763.2px;top:1059.86px;font-size:18.84px">3</span>
<span class="w tc" style="left:873.2px;top:1059.86px;font-size:18.84px">12:00</span>
<span class="w tc" style="left:983.2px;top:1059.86px;font-size:18.84px">4</span>
<span class="w tc" style="left:1093.2px;top:1059.86px;font-size:18.84px">12:00</span>
<span class="w tc" style="left:1203.2px;top:1059.86px;font-size:18.84px">5</span>
<span class="w tc" style="left:1313.2px;top:1059.86px;font-size:18.84px">12:00</span>
<span class="w tc" style="left:1423.2px;top:1059.86px;font-size:18.84px">6</span>
<span class="w tc" style="left:1533.2px;top:1059.86px;font-size:18.84px">12:00</span>
<span class="w tc" style="left:1643.2px;top:1059.86px;font-size:18.84px">7</span>
<span class="w tc" style="left:1753.2px;top:1059.86px;font-size:18.84px">12:00</span>
<span class="w tc" style="left:1863.2px;top:1059.86px;font-size:18.84px">8</span>
<span class="w tc" style="left:1973.2px;top:1059.86px;font-size:18.84px">12:00</span>
<span class="w tc" style="left:2083.2px;top:1059.86px;font-size:18.84px">9</span>
<span class="w tc" style="left:2193.2px;top:1059.86px;font-size:18.84px">12:00</span>
<div class="lbl" style="top:302px;background:#000000"></div>
<span class="w" style="left:2311.9px;top:305.57px;font-size:18.03px;transform:scaleX(0.9918);color:#fff;-webkit-text-stroke:0.45px #fff;">93,559.5</span>
<div class="lbl" style="top:327.3px;background:#a5d6a7"></div>
<span class="w" style="left:2311.9px;top:330.87px;font-size:18.03px;transform:scaleX(0.9918);color:#000;-webkit-text-stroke:0.45px #000;">93,316.4</span>
<div class="lbl" style="top:352.6px;background:#363a45"></div>
<span class="w" style="left:2311.9px;top:356.17px;font-size:18.03px;transform:scaleX(0.9918);color:#fff;-webkit-text-stroke:0.45px #fff;">93,270.3</span>
<div class="lbl" style="top:377.9px;background:#f23645"></div>
<span class="w" style="left:2311.9px;top:381.47px;font-size:18.03px;transform:scaleX(0.9918);color:#fff;-webkit-text-stroke:0.45px #fff;">93,263.0</span>
<div class="lbl" style="top:450.6px;background:#ff9800"></div>
<span class="w" style="left:2311.9px;top:454.17px;font-size:18.03px;transform:scaleX(0.9918);color:#000;-webkit-text-stroke:0.45px #000;">93,213.5</span>
<div class="lbl" style="top:475.9px;background:#ef9a9a"></div>
<span class="w" style="left:2311.9px;top:479.47px;font-size:18.03px;transform:scaleX(1.0113);color:#000;-webkit-text-stroke:0.45px #000;">92,911.2</span>
<div class="lbl" style="top:501.2px;background:#2962ff"></div>
<span class="w" style="left:2311.9px;top:504.77px;font-size:18.03px;transform:scaleX(0.9918);color:#fff;-webkit-text-stroke:0.45px #fff;">92,822.7</span>
<div class="lbl" style="top:526.5px;background:#9c27b0"></div>
<span class="w" style="left:2311.9px;top:530.07px;font-size:18.03px;transform:scaleX(0.9918);color:#fff;-webkit-text-stroke:0.45px #fff;">91,991.2</span>
<div class="lbl" style="top:403.2px;height:47.4px;background:#ff0000"></div>
<span class="w" style="left:2311.9px;top:406.77px;font-size:18.03px;transform:scaleX(0.9918);color:#fff;-webkit-text-stroke:0.45px #fff;">93,260.3</span>
<span class="w" style="left:2312.0px;top:428.94px;font-size:16.9px;transform:scaleX(1.0403);color:#ffd5d5;">20:22</span>
<!-- big text -->
<div class="big" style="left:1990px;top:97px">주봉 저항</div>
<div class="big" style="left:1990px;top:313px">일봉 저항</div>
<div class="big" style="left:1662px;top:463.5px">1차지지</div>
<div class="big" style="left:1660.5px;top:594px">2차지지</div>
<div class="big" style="left:779px;top:926px">일봉 오더블럭</div>
</body></html>
